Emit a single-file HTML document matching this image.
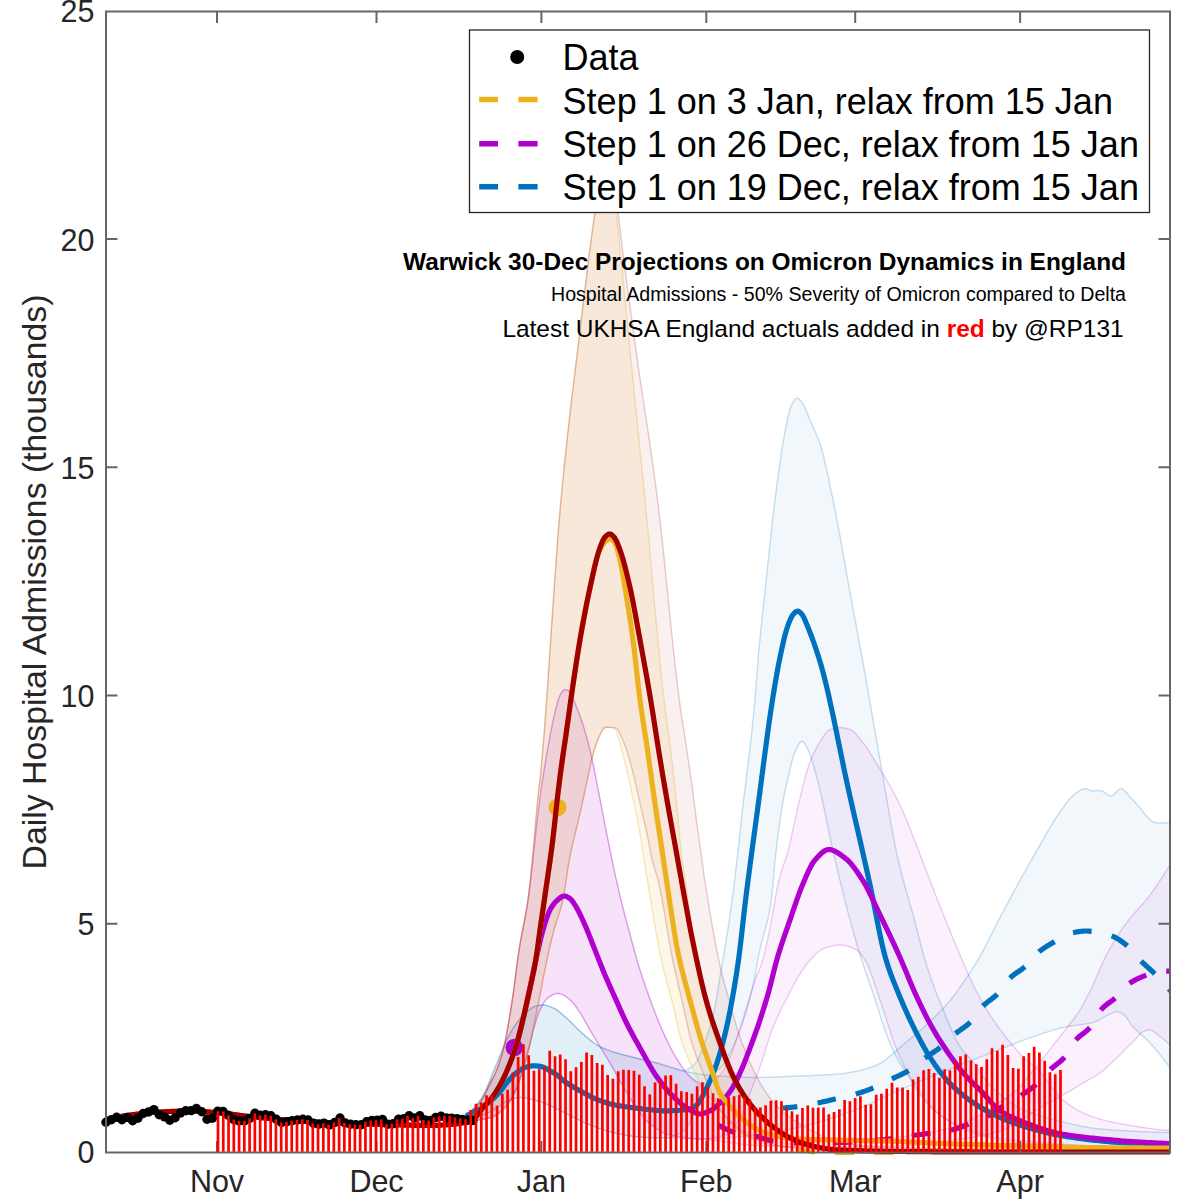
<!DOCTYPE html>
<html><head><meta charset="utf-8"><title>chart</title>
<style>
html,body{margin:0;padding:0;background:#fff;}
body{width:1200px;height:1200px;overflow:hidden;position:relative;}
svg{display:block;position:absolute;top:0;left:0;}
text{font-family:"Liberation Sans",sans-serif;}
</style></head><body>
<svg width="1200" height="1200" viewBox="0 0 1200 1200">
<rect width="1200" height="1200" fill="#fff"/>
<defs><clipPath id="cp"><rect x="106.0" y="11.5" width="1064.0" height="1143.5"/></clipPath></defs>
<g clip-path="url(#cp)">
<path d="M466.7 1113.5L468.7 1112.5L470.7 1111.1L472.7 1109.3L474.7 1107.1L476.7 1104.8L478.7 1102.2L480.7 1099.4L482.7 1096.4L484.7 1092.7L486.7 1088.4L488.7 1083.6L490.7 1078.6L492.7 1073.5L494.7 1068.7L496.7 1063.9L498.7 1058.9L500.7 1053.8L502.7 1048.9L504.7 1044.2L506.7 1040.0L508.7 1036.1L510.7 1032.4L512.7 1029.0L514.7 1025.8L516.7 1023.0L518.7 1020.3L520.7 1017.8L522.7 1015.5L524.7 1013.4L526.7 1011.7L528.7 1010.1L530.7 1008.7L532.7 1007.4L534.7 1006.4L536.7 1005.8L538.7 1005.4L540.7 1005.2L542.7 1005.0L544.7 1005.1L546.7 1005.5L548.7 1006.1L550.7 1006.9L552.7 1007.8L554.7 1008.7L556.7 1009.9L558.7 1011.4L560.7 1013.0L562.7 1014.8L564.7 1016.5L566.7 1018.2L568.7 1020.1L570.7 1022.1L572.7 1024.1L574.7 1026.1L576.7 1028.0L578.7 1029.9L580.7 1031.8L582.7 1033.7L584.8 1035.6L586.8 1037.3L588.8 1039.0L590.8 1040.6L592.8 1042.1L594.8 1043.5L596.8 1044.8L598.8 1046.0L600.8 1047.1L602.8 1048.0L604.8 1048.9L606.8 1049.7L608.8 1050.4L610.8 1051.1L612.8 1051.8L614.8 1052.4L616.8 1053.0L618.8 1053.6L620.8 1054.2L622.8 1054.7L624.8 1055.3L626.8 1055.8L628.8 1056.3L630.8 1056.8L632.8 1057.2L634.8 1057.7L636.8 1058.2L638.8 1058.7L640.8 1059.2L642.8 1059.7L644.8 1060.1L646.8 1060.6L648.8 1061.1L650.8 1061.5L652.8 1062.0L654.8 1062.5L656.8 1063.0L658.8 1063.6L660.8 1064.2L662.8 1064.8L664.8 1065.4L666.8 1066.0L668.8 1066.6L670.8 1067.3L672.8 1067.9L674.8 1068.5L676.8 1069.2L678.8 1069.9L680.8 1070.5L682.8 1070.8L684.8 1070.6L686.8 1069.8L688.8 1068.7L690.8 1067.5L692.8 1066.0L694.8 1064.0L696.8 1061.6L698.8 1058.0L700.8 1053.2L702.8 1048.0L704.8 1042.7L706.8 1037.0L708.8 1030.7L710.8 1023.9L712.8 1016.3L714.8 1007.6L716.8 996.7L718.8 984.0L720.8 972.0L722.8 960.6L724.8 948.6L726.8 936.3L728.8 923.6L730.8 910.2L732.8 895.6L734.8 879.5L736.8 861.9L738.8 843.6L740.8 825.1L742.8 807.2L744.8 790.4L746.8 774.2L748.8 758.0L750.8 741.0L752.8 722.5L754.8 702.0L756.8 675.5L758.8 650.8L760.8 630.2L762.8 611.4L764.8 593.2L766.8 574.5L768.8 555.4L770.8 536.3L772.8 518.1L774.8 501.3L776.8 485.8L778.8 470.8L780.8 456.7L782.8 443.9L784.8 432.8L786.8 422.9L788.8 413.7L790.8 406.6L792.8 402.6L794.8 399.7L796.8 398.1L798.8 398.5L800.8 400.8L802.8 403.8L804.8 407.4L806.8 412.1L808.8 417.2L810.8 421.9L812.8 426.4L814.8 430.8L816.8 435.4L818.8 440.6L820.9 446.7L822.9 453.8L824.9 461.8L826.9 470.6L828.9 479.9L830.9 489.6L832.9 499.4L834.9 509.3L836.9 519.4L838.9 530.0L840.9 541.0L842.9 552.2L844.9 563.6L846.9 575.0L848.9 586.2L850.9 597.2L852.9 608.0L854.9 618.7L856.9 629.4L858.9 640.1L860.9 651.0L862.9 662.0L864.9 673.3L866.9 684.6L868.9 696.1L870.9 707.6L872.9 719.2L874.9 730.7L876.9 742.2L878.9 753.6L880.9 765.0L882.9 776.5L884.9 788.3L886.9 800.1L888.9 811.8L890.9 823.2L892.9 834.2L894.9 844.6L896.9 854.2L898.9 863.0L900.9 871.2L902.9 878.8L904.9 886.2L906.9 893.2L908.9 900.2L910.9 907.2L912.9 914.2L914.9 921.6L916.9 929.3L918.9 937.1L920.9 945.0L922.9 952.6L924.9 959.6L926.9 966.2L928.9 972.4L930.9 978.3L932.9 983.9L934.9 989.3L936.9 994.5L938.9 999.5L940.9 1004.3L942.9 1009.1L944.9 1013.8L946.9 1018.7L948.9 1023.6L950.9 1028.4L952.9 1033.0L954.9 1037.4L956.9 1041.4L958.9 1045.0L960.9 1048.0L962.9 1050.7L964.9 1053.0L966.9 1055.2L968.9 1057.3L970.9 1059.5L972.9 1061.9L974.9 1064.5L976.9 1067.3L978.9 1070.2L980.9 1073.2L982.9 1076.1L984.9 1078.9L986.9 1081.5L988.9 1083.9L990.9 1085.9L992.9 1087.9L994.9 1089.8L996.9 1091.6L998.9 1093.4L1000.9 1095.2L1002.9 1096.9L1004.9 1098.5L1006.9 1100.0L1008.9 1101.4L1010.9 1102.8L1012.9 1104.1L1014.9 1105.3L1016.9 1106.5L1018.9 1107.5L1020.9 1108.4L1022.9 1109.3L1024.9 1110.2L1026.9 1111.0L1028.9 1111.8L1030.9 1112.6L1032.9 1113.4L1034.9 1114.1L1036.9 1114.8L1038.9 1115.4L1040.9 1116.1L1042.9 1116.7L1044.9 1117.3L1046.9 1117.9L1048.9 1118.4L1050.9 1119.0L1052.9 1119.5L1054.9 1120.0L1057.0 1120.5L1059.0 1121.0L1061.0 1121.5L1063.0 1122.0L1065.0 1122.5L1067.0 1122.9L1069.0 1123.4L1071.0 1123.9L1073.0 1124.4L1075.0 1124.8L1077.0 1125.3L1079.0 1125.7L1081.0 1126.1L1083.0 1126.5L1085.0 1126.9L1087.0 1127.3L1089.0 1127.6L1091.0 1127.9L1093.0 1128.2L1095.0 1128.5L1097.0 1128.7L1099.0 1128.9L1101.0 1129.1L1103.0 1129.2L1105.0 1129.4L1107.0 1129.5L1109.0 1129.7L1111.0 1129.8L1113.0 1130.0L1115.0 1130.1L1117.0 1130.3L1119.0 1130.4L1121.0 1130.5L1123.0 1130.7L1125.0 1130.8L1127.0 1130.9L1129.0 1131.0L1131.0 1131.2L1133.0 1131.3L1135.0 1131.4L1137.0 1131.5L1139.0 1131.6L1141.0 1131.7L1143.0 1131.8L1145.0 1131.8L1147.0 1131.9L1149.0 1132.0L1151.0 1132.1L1153.0 1132.1L1155.0 1132.2L1157.0 1132.3L1159.0 1132.3L1161.0 1132.4L1163.0 1132.4L1165.0 1132.4L1167.0 1132.5L1169.0 1132.5L1171.0 1132.5L1173.0 1132.5L1175.0 1132.5L1175.0 1148.0L1173.0 1148.0L1171.0 1148.0L1169.0 1148.0L1167.0 1148.0L1165.0 1148.0L1163.0 1148.0L1161.0 1147.9L1159.0 1147.9L1157.0 1147.9L1155.0 1147.9L1153.0 1147.9L1151.0 1147.8L1149.0 1147.8L1147.0 1147.8L1145.0 1147.7L1143.0 1147.7L1141.0 1147.6L1139.0 1147.6L1137.0 1147.6L1135.0 1147.5L1133.0 1147.5L1131.0 1147.4L1129.0 1147.4L1127.0 1147.3L1125.0 1147.2L1123.0 1147.2L1121.0 1147.1L1119.0 1147.0L1117.0 1147.0L1115.0 1146.9L1113.0 1146.8L1111.0 1146.8L1109.0 1146.7L1107.0 1146.6L1105.0 1146.5L1103.0 1146.4L1101.0 1146.3L1099.0 1146.2L1097.0 1146.2L1095.0 1146.1L1093.0 1146.0L1091.0 1145.9L1089.0 1145.8L1087.0 1145.7L1085.0 1145.6L1083.0 1145.4L1081.0 1145.3L1079.0 1145.2L1077.0 1145.1L1075.0 1145.0L1073.0 1144.9L1071.0 1144.8L1069.0 1144.6L1067.0 1144.5L1065.0 1144.4L1063.0 1144.2L1061.0 1144.1L1059.0 1144.0L1057.0 1143.8L1054.9 1143.7L1052.9 1143.6L1050.9 1143.4L1048.9 1143.3L1046.9 1143.1L1044.9 1143.0L1042.9 1142.8L1040.9 1142.7L1038.9 1142.5L1036.9 1142.3L1034.9 1142.2L1032.9 1142.0L1030.9 1141.9L1028.9 1141.7L1026.9 1141.5L1024.9 1141.3L1022.9 1141.2L1020.9 1141.0L1018.9 1140.8L1016.9 1140.6L1014.9 1140.5L1012.9 1140.3L1010.9 1140.1L1008.9 1139.9L1006.9 1139.7L1004.9 1139.4L1002.9 1139.1L1000.9 1138.7L998.9 1138.3L996.9 1137.9L994.9 1137.5L992.9 1137.0L990.9 1136.5L988.9 1135.9L986.9 1135.4L984.9 1134.8L982.9 1134.2L980.9 1133.6L978.9 1132.9L976.9 1132.3L974.9 1131.6L972.9 1131.0L970.9 1130.3L968.9 1129.6L966.9 1128.9L964.9 1128.2L962.9 1127.4L960.9 1126.5L958.9 1125.6L956.9 1124.7L954.9 1123.7L952.9 1122.7L950.9 1121.7L948.9 1120.6L946.9 1119.4L944.9 1118.2L942.9 1116.9L940.9 1115.6L938.9 1114.2L936.9 1112.7L934.9 1111.1L932.9 1109.3L930.9 1107.4L928.9 1105.3L926.9 1103.2L924.9 1100.9L922.9 1098.6L920.9 1096.1L918.9 1093.5L916.9 1090.5L914.9 1087.2L912.9 1083.7L910.9 1080.1L908.9 1076.6L906.9 1073.3L904.9 1070.3L902.9 1067.5L900.9 1064.6L898.9 1061.5L896.9 1058.0L894.9 1054.0L892.9 1049.8L890.9 1045.3L888.9 1040.5L886.9 1035.5L884.9 1030.1L882.9 1024.2L880.9 1018.0L878.9 1011.6L876.9 1005.1L874.9 998.8L872.9 992.6L870.9 986.8L868.9 981.1L866.9 975.5L864.9 969.8L862.9 963.9L860.9 957.8L858.9 951.3L856.9 944.5L854.9 937.5L852.9 930.4L850.9 923.1L848.9 915.6L846.9 907.9L844.9 900.1L842.9 892.2L840.9 884.1L838.9 876.0L836.9 867.7L834.9 859.4L832.9 850.7L830.9 841.4L828.9 831.8L826.9 822.0L824.9 812.3L822.9 802.8L820.9 793.7L818.8 785.3L816.8 777.5L814.8 770.0L812.8 762.9L810.8 756.6L808.8 751.7L806.8 747.3L804.8 743.5L802.8 741.3L800.8 741.5L798.8 744.0L796.8 747.9L794.8 752.4L792.8 758.2L790.8 765.8L788.8 774.3L786.8 782.8L784.8 792.0L782.8 802.7L780.8 814.9L778.8 828.6L776.8 844.1L774.8 861.6L772.8 886.6L770.8 903.8L768.8 914.9L766.8 923.7L764.8 931.2L762.8 938.3L760.8 945.8L758.8 954.6L756.8 965.6L754.8 977.2L752.8 987.1L750.8 995.3L748.8 1002.7L746.8 1009.6L744.8 1016.2L742.8 1022.4L740.8 1028.3L738.8 1033.7L736.8 1038.6L734.8 1043.2L732.8 1047.5L730.8 1051.5L728.8 1055.2L726.8 1058.9L724.8 1062.3L722.8 1065.3L720.8 1067.7L718.8 1069.4L716.8 1070.8L714.8 1072.1L712.8 1073.7L710.8 1075.7L708.8 1078.8L706.8 1084.1L704.8 1090.1L702.8 1095.5L700.8 1100.0L698.8 1104.3L696.8 1108.4L694.8 1112.4L692.8 1116.6L690.8 1120.9L688.8 1124.9L686.8 1128.1L684.8 1130.1L682.8 1131.5L680.8 1132.8L678.8 1133.9L676.8 1134.9L674.8 1135.8L672.8 1136.6L670.8 1137.2L668.8 1137.7L666.8 1137.9L664.8 1138.0L662.8 1138.0L660.8 1138.0L658.8 1137.9L656.8 1137.9L654.8 1137.8L652.8 1137.7L650.8 1137.6L648.8 1137.5L646.8 1137.4L644.8 1137.3L642.8 1137.2L640.8 1137.0L638.8 1136.9L636.8 1136.7L634.8 1136.5L632.8 1136.3L630.8 1136.0L628.8 1135.7L626.8 1135.3L624.8 1135.0L622.8 1134.6L620.8 1134.2L618.8 1133.8L616.8 1133.4L614.8 1132.9L612.8 1132.5L610.8 1132.0L608.8 1131.5L606.8 1130.9L604.8 1130.3L602.8 1129.6L600.8 1128.9L598.8 1128.3L596.8 1127.5L594.8 1126.8L592.8 1126.0L590.8 1125.3L588.8 1124.5L586.8 1123.7L584.8 1122.8L582.7 1121.8L580.7 1120.9L578.7 1119.9L576.7 1118.9L574.7 1117.8L572.7 1116.8L570.7 1115.8L568.7 1114.8L566.7 1113.8L564.7 1112.9L562.7 1111.9L560.7 1110.9L558.7 1109.9L556.7 1108.9L554.7 1107.9L552.7 1106.9L550.7 1105.9L548.7 1105.0L546.7 1104.1L544.7 1103.3L542.7 1102.6L540.7 1101.9L538.7 1101.3L536.7 1100.8L534.7 1100.2L532.7 1099.6L530.7 1099.1L528.7 1098.6L526.7 1098.2L524.7 1097.9L522.7 1097.6L520.7 1097.5L518.7 1097.6L516.7 1097.9L514.7 1098.4L512.7 1099.2L510.7 1100.0L508.7 1100.8L506.7 1101.7L504.7 1102.6L502.7 1103.8L500.7 1105.1L498.7 1106.5L496.7 1107.9L494.7 1109.3L492.7 1110.6L490.7 1111.7L488.7 1112.6L486.7 1113.4L484.7 1114.3L482.7 1115.1L480.7 1115.9L478.7 1116.6L476.7 1117.3L474.7 1118.0L472.7 1118.6L470.7 1119.1L468.7 1119.6L466.7 1120.0Z" fill="#0072BD" fill-opacity="0.055" stroke="#0072BD" stroke-opacity="0.22" stroke-width="1.4" stroke-linejoin="round"/>
<path d="M466.7 1113.5L468.7 1112.5L470.7 1111.1L472.7 1109.3L474.7 1107.1L476.7 1104.8L478.7 1102.2L480.7 1099.4L482.7 1096.4L484.7 1092.7L486.7 1088.4L488.7 1083.6L490.7 1078.6L492.7 1073.5L494.7 1068.7L496.7 1063.9L498.7 1058.9L500.7 1053.8L502.7 1048.9L504.7 1044.2L506.7 1040.0L508.7 1036.1L510.7 1032.4L512.7 1029.0L514.7 1025.8L516.7 1023.0L518.7 1020.3L520.7 1017.8L522.7 1015.5L524.7 1013.4L526.7 1011.7L528.7 1010.1L530.7 1008.7L532.7 1007.4L534.7 1006.4L536.7 1005.8L538.7 1005.4L540.7 1005.2L542.7 1005.0L544.7 1005.1L546.7 1005.5L548.7 1006.1L550.7 1006.9L552.7 1007.8L554.7 1008.7L556.7 1009.9L558.7 1011.4L560.7 1013.0L562.7 1014.8L564.7 1016.5L566.7 1018.2L568.7 1020.1L570.7 1022.1L572.7 1024.1L574.7 1026.1L576.7 1028.0L578.7 1029.9L580.7 1031.8L582.7 1033.7L584.8 1035.6L586.8 1037.3L588.8 1039.0L590.8 1040.6L592.8 1042.1L594.8 1043.5L596.8 1044.8L598.8 1046.0L600.8 1047.1L602.8 1048.0L604.8 1048.9L606.8 1049.7L608.8 1050.4L610.8 1051.1L612.8 1051.8L614.8 1052.4L616.8 1053.0L618.8 1053.6L620.8 1054.2L622.8 1054.7L624.8 1055.3L626.8 1055.8L628.8 1056.3L630.8 1056.8L632.8 1057.2L634.8 1057.7L636.8 1058.2L638.8 1058.7L640.8 1059.2L642.8 1059.7L644.8 1060.1L646.8 1060.6L648.8 1061.1L650.8 1061.5L652.8 1062.0L654.8 1062.5L656.8 1063.0L658.8 1063.6L660.8 1064.2L662.8 1064.8L664.8 1065.4L666.8 1066.0L668.8 1066.6L670.8 1067.3L672.8 1067.9L674.8 1068.4L676.8 1069.0L678.8 1069.6L680.8 1070.2L682.8 1070.7L684.8 1071.1L686.8 1071.6L688.8 1072.0L690.8 1072.5L692.8 1072.9L694.8 1073.3L696.8 1073.6L698.8 1074.0L700.8 1074.3L702.8 1074.6L704.8 1074.8L706.8 1075.0L708.8 1075.2L710.8 1075.3L712.8 1075.5L714.8 1075.7L716.8 1075.8L718.8 1076.0L720.8 1076.1L722.8 1076.2L724.8 1076.4L726.8 1076.5L728.8 1076.6L730.8 1076.7L732.8 1076.8L734.8 1076.9L736.8 1077.0L738.8 1077.1L740.8 1077.2L742.8 1077.3L744.8 1077.3L746.8 1077.4L748.8 1077.4L750.8 1077.5L752.8 1077.5L754.8 1077.5L756.8 1077.5L758.8 1077.5L760.8 1077.5L762.8 1077.4L764.8 1077.4L766.8 1077.3L768.8 1077.2L770.8 1077.1L772.8 1077.1L774.8 1077.0L776.8 1076.9L778.8 1076.8L780.8 1076.7L782.8 1076.7L784.8 1076.6L786.8 1076.5L788.8 1076.5L790.8 1076.4L792.8 1076.3L794.8 1076.3L796.8 1076.2L798.8 1076.1L800.8 1076.0L802.8 1076.0L804.8 1075.9L806.8 1075.8L808.8 1075.7L810.8 1075.6L812.8 1075.5L814.8 1075.4L816.8 1075.3L818.8 1075.3L820.9 1075.2L822.9 1075.1L824.9 1074.9L826.9 1074.8L828.9 1074.7L830.9 1074.6L832.9 1074.4L834.9 1074.3L836.9 1074.1L838.9 1073.9L840.9 1073.7L842.9 1073.5L844.9 1073.2L846.9 1072.9L848.9 1072.6L850.9 1072.3L852.9 1071.9L854.9 1071.5L856.9 1071.1L858.9 1070.6L860.9 1070.2L862.9 1069.7L864.9 1069.1L866.9 1068.6L868.9 1068.0L870.9 1067.4L872.9 1066.7L874.9 1066.0L876.9 1065.1L878.9 1064.1L880.9 1062.9L882.9 1061.6L884.9 1060.2L886.9 1058.6L888.9 1057.0L890.9 1055.4L892.9 1053.7L894.9 1051.9L896.9 1050.2L898.9 1048.4L900.9 1046.6L902.9 1044.9L904.9 1043.2L906.9 1041.5L908.9 1039.9L910.9 1038.3L912.9 1036.6L914.9 1034.9L916.9 1033.2L918.9 1031.5L920.9 1029.7L922.9 1028.0L924.9 1026.2L926.9 1024.4L928.9 1022.5L930.9 1020.6L932.9 1018.7L934.9 1016.8L936.9 1014.8L938.9 1012.8L940.9 1010.8L942.9 1008.7L944.9 1006.5L946.9 1004.2L948.9 1001.9L950.9 999.5L952.9 997.0L954.9 994.4L956.9 991.7L958.9 988.9L960.9 986.0L962.9 983.1L964.9 980.1L966.9 977.2L968.9 974.2L970.9 971.3L972.9 968.2L974.9 965.1L976.9 961.8L978.9 958.4L980.9 954.9L982.9 951.1L984.9 947.3L986.9 943.4L988.9 939.4L990.9 935.4L992.9 931.4L994.9 927.4L996.9 923.4L998.9 919.5L1000.9 915.8L1002.9 912.0L1004.9 908.3L1006.9 904.5L1008.9 900.8L1010.9 897.1L1012.9 893.4L1014.9 889.7L1016.9 886.1L1018.9 882.4L1020.9 878.8L1022.9 875.1L1024.9 871.5L1026.9 867.9L1028.9 864.4L1030.9 860.8L1032.9 857.3L1034.9 853.8L1036.9 850.3L1038.9 846.8L1040.9 843.4L1042.9 839.9L1044.9 836.4L1046.9 832.9L1048.9 829.5L1050.9 826.1L1052.9 822.8L1054.9 819.5L1057.0 816.4L1059.0 813.5L1061.0 810.7L1063.0 807.8L1065.0 805.0L1067.0 802.3L1069.0 799.7L1071.0 797.4L1073.0 795.4L1075.0 793.8L1077.0 792.4L1079.0 791.0L1081.0 789.9L1083.0 789.1L1085.0 788.8L1087.0 789.1L1089.0 789.9L1091.0 790.6L1093.0 791.0L1095.0 790.9L1097.0 790.7L1099.0 790.5L1101.0 790.6L1103.0 791.5L1105.0 792.9L1107.0 794.3L1109.0 795.5L1111.0 796.0L1113.0 795.3L1115.0 793.5L1117.0 791.3L1119.0 789.5L1121.0 788.8L1123.0 789.4L1125.0 791.2L1127.0 793.5L1129.0 795.9L1131.0 798.0L1133.0 800.1L1135.0 802.3L1137.0 804.5L1139.0 806.6L1141.0 809.1L1143.0 811.6L1145.0 814.2L1147.0 816.6L1149.0 818.8L1151.0 820.6L1153.0 821.9L1155.0 822.5L1157.0 822.7L1159.0 822.9L1161.0 823.0L1163.0 823.0L1165.0 822.9L1167.0 822.7L1169.0 822.4L1171.0 822.0L1173.0 821.6L1175.0 821.0L1175.0 1075.0L1173.0 1072.1L1171.0 1069.2L1169.0 1066.4L1167.0 1063.7L1165.0 1061.0L1163.0 1058.4L1161.0 1055.9L1159.0 1053.4L1157.0 1051.0L1155.0 1048.6L1153.0 1046.3L1151.0 1044.1L1149.0 1041.9L1147.0 1039.9L1145.0 1038.0L1143.0 1036.2L1141.0 1034.4L1139.0 1032.6L1137.0 1030.8L1135.0 1028.8L1133.0 1026.7L1131.0 1024.1L1129.0 1021.1L1127.0 1018.2L1125.0 1015.6L1123.0 1014.0L1121.0 1012.9L1119.0 1012.1L1117.0 1011.7L1115.0 1011.9L1113.0 1012.7L1111.0 1013.6L1109.0 1014.4L1107.0 1015.4L1105.0 1016.5L1103.0 1017.7L1101.0 1018.9L1099.0 1020.0L1097.0 1021.0L1095.0 1021.9L1093.0 1022.5L1091.0 1023.0L1089.0 1023.4L1087.0 1023.7L1085.0 1024.1L1083.0 1024.3L1081.0 1024.6L1079.0 1024.9L1077.0 1025.1L1075.0 1025.4L1073.0 1025.6L1071.0 1025.9L1069.0 1026.3L1067.0 1026.6L1065.0 1027.1L1063.0 1027.5L1061.0 1028.0L1059.0 1028.5L1057.0 1029.1L1054.9 1029.6L1052.9 1030.2L1050.9 1030.8L1048.9 1031.4L1046.9 1032.1L1044.9 1032.7L1042.9 1033.4L1040.9 1034.0L1038.9 1034.7L1036.9 1035.4L1034.9 1036.0L1032.9 1036.7L1030.9 1037.4L1028.9 1038.1L1026.9 1038.8L1024.9 1039.6L1022.9 1040.3L1020.9 1041.1L1018.9 1041.9L1016.9 1042.7L1014.9 1043.5L1012.9 1044.3L1010.9 1045.0L1008.9 1045.8L1006.9 1046.6L1004.9 1047.4L1002.9 1048.2L1000.9 1048.9L998.9 1049.7L996.9 1050.5L994.9 1051.3L992.9 1052.1L990.9 1052.9L988.9 1053.7L986.9 1054.5L984.9 1055.3L982.9 1056.1L980.9 1056.9L978.9 1057.7L976.9 1058.5L974.9 1059.2L972.9 1060.0L970.9 1060.8L968.9 1061.6L966.9 1062.4L964.9 1063.2L962.9 1063.9L960.9 1064.7L958.9 1065.5L956.9 1066.3L954.9 1067.1L952.9 1067.8L950.9 1068.6L948.9 1069.4L946.9 1070.2L944.9 1071.0L942.9 1071.8L940.9 1072.6L938.9 1073.5L936.9 1074.3L934.9 1075.1L932.9 1075.9L930.9 1076.8L928.9 1077.6L926.9 1078.5L924.9 1079.3L922.9 1080.1L920.9 1081.0L918.9 1081.9L916.9 1082.7L914.9 1083.6L912.9 1084.4L910.9 1085.3L908.9 1086.2L906.9 1087.0L904.9 1087.9L902.9 1088.8L900.9 1089.6L898.9 1090.5L896.9 1091.4L894.9 1092.3L892.9 1093.2L890.9 1094.1L888.9 1095.0L886.9 1095.9L884.9 1096.9L882.9 1097.8L880.9 1098.7L878.9 1099.7L876.9 1100.6L874.9 1101.5L872.9 1102.5L870.9 1103.4L868.9 1104.3L866.9 1105.2L864.9 1106.0L862.9 1106.9L860.9 1107.8L858.9 1108.6L856.9 1109.4L854.9 1110.2L852.9 1111.0L850.9 1111.7L848.9 1112.4L846.9 1113.1L844.9 1113.8L842.9 1114.5L840.9 1115.2L838.9 1115.9L836.9 1116.5L834.9 1117.2L832.9 1117.9L830.9 1118.5L828.9 1119.1L826.9 1119.8L824.9 1120.4L822.9 1121.0L820.9 1121.6L818.8 1122.1L816.8 1122.7L814.8 1123.3L812.8 1123.8L810.8 1124.3L808.8 1124.9L806.8 1125.4L804.8 1125.9L802.8 1126.3L800.8 1126.8L798.8 1127.3L796.8 1127.7L794.8 1128.2L792.8 1128.6L790.8 1129.0L788.8 1129.5L786.8 1129.9L784.8 1130.3L782.8 1130.8L780.8 1131.2L778.8 1131.6L776.8 1132.0L774.8 1132.4L772.8 1132.8L770.8 1133.1L768.8 1133.5L766.8 1133.8L764.8 1134.1L762.8 1134.4L760.8 1134.7L758.8 1135.0L756.8 1135.3L754.8 1135.5L752.8 1135.7L750.8 1135.9L748.8 1136.1L746.8 1136.3L744.8 1136.5L742.8 1136.6L740.8 1136.8L738.8 1137.0L736.8 1137.2L734.8 1137.3L732.8 1137.5L730.8 1137.6L728.8 1137.8L726.8 1137.9L724.8 1138.1L722.8 1138.2L720.8 1138.3L718.8 1138.4L716.8 1138.5L714.8 1138.6L712.8 1138.7L710.8 1138.8L708.8 1138.9L706.8 1138.9L704.8 1139.0L702.8 1139.0L700.8 1139.0L698.8 1139.0L696.8 1139.0L694.8 1139.0L692.8 1138.9L690.8 1138.9L688.8 1138.8L686.8 1138.8L684.8 1138.7L682.8 1138.7L680.8 1138.6L678.8 1138.5L676.8 1138.4L674.8 1138.4L672.8 1138.3L670.8 1138.2L668.8 1138.1L666.8 1138.1L664.8 1138.0L662.8 1137.9L660.8 1137.9L658.8 1137.8L656.8 1137.7L654.8 1137.7L652.8 1137.6L650.8 1137.5L648.8 1137.5L646.8 1137.4L644.8 1137.3L642.8 1137.2L640.8 1137.0L638.8 1136.9L636.8 1136.7L634.8 1136.5L632.8 1136.3L630.8 1136.0L628.8 1135.7L626.8 1135.3L624.8 1135.0L622.8 1134.6L620.8 1134.2L618.8 1133.8L616.8 1133.4L614.8 1132.9L612.8 1132.5L610.8 1132.0L608.8 1131.5L606.8 1130.9L604.8 1130.3L602.8 1129.6L600.8 1128.9L598.8 1128.3L596.8 1127.5L594.8 1126.8L592.8 1126.0L590.8 1125.3L588.8 1124.5L586.8 1123.7L584.8 1122.8L582.7 1121.8L580.7 1120.9L578.7 1119.9L576.7 1118.9L574.7 1117.8L572.7 1116.8L570.7 1115.8L568.7 1114.8L566.7 1113.8L564.7 1112.9L562.7 1111.9L560.7 1110.9L558.7 1109.9L556.7 1108.9L554.7 1107.9L552.7 1106.9L550.7 1105.9L548.7 1105.0L546.7 1104.1L544.7 1103.3L542.7 1102.6L540.7 1101.9L538.7 1101.3L536.7 1100.8L534.7 1100.2L532.7 1099.6L530.7 1099.1L528.7 1098.6L526.7 1098.2L524.7 1097.9L522.7 1097.6L520.7 1097.5L518.7 1097.6L516.7 1097.9L514.7 1098.4L512.7 1099.2L510.7 1100.0L508.7 1100.8L506.7 1101.7L504.7 1102.6L502.7 1103.8L500.7 1105.1L498.7 1106.5L496.7 1107.9L494.7 1109.3L492.7 1110.6L490.7 1111.7L488.7 1112.6L486.7 1113.4L484.7 1114.3L482.7 1115.1L480.7 1115.9L478.7 1116.6L476.7 1117.3L474.7 1118.0L472.7 1118.6L470.7 1119.1L468.7 1119.6L466.7 1120.0Z" fill="#0072BD" fill-opacity="0.055" stroke="#0072BD" stroke-opacity="0.22" stroke-width="1.4" stroke-linejoin="round"/>
<path d="M466.0 1113.5L468.0 1112.9L470.0 1111.9L472.0 1110.5L474.0 1108.8L476.0 1107.0L478.0 1105.0L480.0 1102.6L482.0 1099.5L484.0 1095.9L486.0 1092.0L488.0 1087.9L490.0 1083.9L492.0 1080.0L494.0 1076.0L496.0 1071.7L498.0 1066.7L500.0 1060.8L502.1 1054.0L504.1 1046.1L506.1 1036.9L508.1 1025.6L510.1 1013.7L512.1 1001.2L514.1 987.3L516.1 971.7L518.1 956.3L520.1 943.4L522.1 932.5L524.1 922.3L526.1 911.7L528.1 899.4L530.1 884.4L532.1 867.1L534.1 848.6L536.1 830.0L538.1 812.4L540.1 796.7L542.1 782.9L544.1 770.0L546.1 757.9L548.1 746.6L550.1 735.7L552.1 725.5L554.1 716.2L556.1 707.8L558.1 700.0L560.1 694.8L562.1 691.7L564.1 689.7L566.1 689.7L568.1 690.6L570.1 692.1L572.1 695.9L574.2 701.3L576.2 706.3L578.2 711.3L580.2 716.6L582.2 722.4L584.2 728.7L586.2 735.6L588.2 743.1L590.2 751.1L592.2 759.8L594.2 769.5L596.2 779.7L598.2 789.8L600.2 800.2L602.2 810.7L604.2 821.0L606.2 831.2L608.2 841.4L610.2 851.3L612.2 861.0L614.2 870.4L616.2 879.5L618.2 888.4L620.2 896.9L622.2 905.0L624.2 912.7L626.2 920.2L628.2 927.7L630.2 935.3L632.2 942.8L634.2 950.2L636.2 957.4L638.2 964.3L640.2 970.8L642.2 977.0L644.3 983.1L646.3 988.9L648.3 994.6L650.3 1000.2L652.3 1005.6L654.3 1010.8L656.3 1015.9L658.3 1020.9L660.3 1025.7L662.3 1030.3L664.3 1034.8L666.3 1039.1L668.3 1043.3L670.3 1047.4L672.3 1051.2L674.3 1054.7L676.3 1058.1L678.3 1061.5L680.3 1064.7L682.3 1067.8L684.3 1070.7L686.3 1073.2L688.3 1075.3L690.3 1076.9L692.3 1078.4L694.3 1079.8L696.3 1081.1L698.3 1082.2L700.3 1083.0L702.3 1083.4L704.3 1083.5L706.3 1083.1L708.3 1082.5L710.3 1081.7L712.3 1080.6L714.4 1079.4L716.4 1078.1L718.4 1076.7L720.4 1074.7L722.4 1072.1L724.4 1068.7L726.4 1064.9L728.4 1060.6L730.4 1056.1L732.4 1051.3L734.4 1045.2L736.4 1038.9L738.4 1032.9L740.4 1026.9L742.4 1020.8L744.4 1014.5L746.4 1007.8L748.4 1000.9L750.4 994.1L752.4 987.7L754.4 981.9L756.4 976.8L758.4 972.0L760.4 966.9L762.4 960.9L764.4 953.6L766.4 945.0L768.4 935.6L770.4 925.9L772.4 915.1L774.4 903.5L776.4 892.2L778.4 882.4L780.4 874.6L782.4 868.2L784.4 862.4L786.5 856.4L788.5 849.4L790.5 841.0L792.5 831.7L794.5 822.4L796.5 813.4L798.5 804.4L800.5 796.1L802.5 788.1L804.5 780.2L806.5 772.8L808.5 766.3L810.5 760.8L812.5 756.0L814.5 751.7L816.5 747.9L818.5 744.4L820.5 741.2L822.5 738.0L824.5 735.0L826.5 732.3L828.5 730.3L830.5 729.3L832.5 728.7L834.5 728.2L836.5 727.8L838.5 727.6L840.5 727.5L842.5 727.7L844.5 728.0L846.5 728.5L848.5 729.0L850.5 729.7L852.5 730.9L854.5 732.6L856.6 734.7L858.6 737.1L860.6 739.6L862.6 742.1L864.6 744.7L866.6 747.5L868.6 750.6L870.6 753.8L872.6 757.0L874.6 760.3L876.6 763.6L878.6 766.8L880.6 770.1L882.6 773.3L884.6 776.7L886.6 780.0L888.6 783.5L890.6 787.0L892.6 790.6L894.6 794.4L896.6 798.2L898.6 802.2L900.6 806.3L902.6 810.7L904.6 815.4L906.6 820.3L908.6 825.3L910.6 830.3L912.6 835.3L914.6 840.4L916.6 845.5L918.6 850.7L920.6 855.9L922.6 861.2L924.6 866.5L926.6 871.8L928.7 877.1L930.7 882.3L932.7 887.6L934.7 892.8L936.7 897.9L938.7 902.9L940.7 908.0L942.7 913.0L944.7 918.0L946.7 922.9L948.7 927.8L950.7 932.7L952.7 937.6L954.7 942.4L956.7 947.2L958.7 951.9L960.7 956.6L962.7 961.3L964.7 966.0L966.7 970.7L968.7 975.2L970.7 979.6L972.7 983.8L974.7 987.8L976.7 991.7L978.7 995.5L980.7 999.3L982.7 1002.9L984.7 1006.4L986.7 1009.7L988.7 1013.0L990.7 1016.1L992.7 1019.2L994.7 1022.1L996.7 1024.9L998.8 1027.7L1000.8 1030.4L1002.8 1033.0L1004.8 1035.6L1006.8 1038.1L1008.8 1040.6L1010.8 1043.0L1012.8 1045.4L1014.8 1047.8L1016.8 1050.1L1018.8 1052.3L1020.8 1054.4L1022.8 1056.5L1024.8 1058.4L1026.8 1060.2L1028.8 1061.9L1030.8 1063.6L1032.8 1065.3L1034.8 1067.0L1036.8 1068.8L1038.8 1070.8L1040.8 1073.0L1042.8 1075.4L1044.8 1078.0L1046.8 1080.6L1048.8 1083.3L1050.8 1086.0L1052.8 1088.6L1054.8 1091.2L1056.8 1093.7L1058.8 1096.0L1060.8 1098.0L1062.8 1099.9L1064.8 1101.5L1066.8 1103.1L1068.9 1104.6L1070.9 1106.1L1072.9 1107.4L1074.9 1108.7L1076.9 1109.9L1078.9 1111.0L1080.9 1112.0L1082.9 1112.9L1084.9 1113.8L1086.9 1114.6L1088.9 1115.3L1090.9 1116.1L1092.9 1116.8L1094.9 1117.4L1096.9 1118.1L1098.9 1118.7L1100.9 1119.3L1102.9 1119.9L1104.9 1120.4L1106.9 1120.9L1108.9 1121.4L1110.9 1121.8L1112.9 1122.3L1114.9 1122.7L1116.9 1123.0L1118.9 1123.4L1120.9 1123.8L1122.9 1124.1L1124.9 1124.5L1126.9 1124.9L1128.9 1125.2L1130.9 1125.6L1132.9 1125.9L1134.9 1126.3L1136.9 1126.6L1138.9 1126.9L1141.0 1127.2L1143.0 1127.5L1145.0 1127.8L1147.0 1128.1L1149.0 1128.4L1151.0 1128.6L1153.0 1128.9L1155.0 1129.1L1157.0 1129.3L1159.0 1129.5L1161.0 1129.7L1163.0 1129.9L1165.0 1130.0L1167.0 1130.2L1169.0 1130.3L1171.0 1130.4L1173.0 1130.4L1175.0 1130.5L1175.0 1148.0L1173.0 1148.0L1171.0 1148.0L1169.0 1148.0L1167.0 1148.0L1165.0 1148.0L1163.0 1148.0L1161.0 1148.0L1159.0 1147.9L1157.0 1147.9L1155.0 1147.9L1153.0 1147.9L1151.0 1147.9L1149.0 1147.9L1147.0 1147.8L1145.0 1147.8L1143.0 1147.8L1141.0 1147.8L1138.9 1147.7L1136.9 1147.7L1134.9 1147.7L1132.9 1147.6L1130.9 1147.6L1128.9 1147.6L1126.9 1147.5L1124.9 1147.5L1122.9 1147.4L1120.9 1147.4L1118.9 1147.3L1116.9 1147.3L1114.9 1147.2L1112.9 1147.2L1110.9 1147.1L1108.9 1147.1L1106.9 1147.0L1104.9 1147.0L1102.9 1146.9L1100.9 1146.8L1098.9 1146.8L1096.9 1146.7L1094.9 1146.6L1092.9 1146.6L1090.9 1146.5L1088.9 1146.4L1086.9 1146.3L1084.9 1146.3L1082.9 1146.2L1080.9 1146.1L1078.9 1146.0L1076.9 1145.9L1074.9 1145.8L1072.9 1145.8L1070.9 1145.7L1068.9 1145.6L1066.8 1145.5L1064.8 1145.4L1062.8 1145.3L1060.8 1145.2L1058.8 1145.1L1056.8 1145.0L1054.8 1144.9L1052.8 1144.8L1050.8 1144.7L1048.8 1144.5L1046.8 1144.4L1044.8 1144.3L1042.8 1144.2L1040.8 1144.1L1038.8 1144.0L1036.8 1143.8L1034.8 1143.7L1032.8 1143.6L1030.8 1143.5L1028.8 1143.3L1026.8 1143.2L1024.8 1143.1L1022.8 1142.9L1020.8 1142.8L1018.8 1142.6L1016.8 1142.5L1014.8 1142.4L1012.8 1142.2L1010.8 1142.1L1008.8 1141.9L1006.8 1141.7L1004.8 1141.4L1002.8 1141.2L1000.8 1140.8L998.8 1140.4L996.7 1140.0L994.7 1139.6L992.7 1139.1L990.7 1138.6L988.7 1138.0L986.7 1137.5L984.7 1136.9L982.7 1136.3L980.7 1135.6L978.7 1135.0L976.7 1134.3L974.7 1133.6L972.7 1133.0L970.7 1132.3L968.7 1131.5L966.7 1130.8L964.7 1129.9L962.7 1129.0L960.7 1128.1L958.7 1127.1L956.7 1126.0L954.7 1124.9L952.7 1123.7L950.7 1122.5L948.7 1121.2L946.7 1119.9L944.7 1118.5L942.7 1117.0L940.7 1115.5L938.7 1113.9L936.7 1112.2L934.7 1110.3L932.7 1108.2L930.7 1106.0L928.7 1103.7L926.6 1101.2L924.6 1098.6L922.6 1096.0L920.6 1093.2L918.6 1090.4L916.6 1087.4L914.6 1084.4L912.6 1081.3L910.6 1077.9L908.6 1074.4L906.6 1070.6L904.6 1066.7L902.6 1062.5L900.6 1058.2L898.6 1053.7L896.6 1049.1L894.6 1044.0L892.6 1038.4L890.6 1032.4L888.6 1026.3L886.6 1020.0L884.6 1013.7L882.6 1007.5L880.6 1001.7L878.6 995.9L876.6 989.9L874.6 983.8L872.6 977.8L870.6 972.2L868.6 967.0L866.6 962.7L864.6 959.3L862.6 956.4L860.6 953.8L858.6 951.6L856.6 949.9L854.5 948.8L852.5 947.9L850.5 947.2L848.5 946.5L846.5 945.9L844.5 945.4L842.5 945.1L840.5 945.0L838.5 945.0L836.5 945.2L834.5 945.5L832.5 945.9L830.5 946.4L828.5 946.9L826.5 947.5L824.5 948.2L822.5 949.1L820.5 950.3L818.5 951.8L816.5 953.5L814.5 955.4L812.5 957.4L810.5 959.5L808.5 961.7L806.5 964.2L804.5 967.0L802.5 970.0L800.5 973.2L798.5 976.4L796.5 979.8L794.5 983.3L792.5 987.0L790.5 990.9L788.5 994.8L786.5 998.8L784.4 1002.8L782.4 1006.8L780.4 1010.8L778.4 1015.0L776.4 1019.3L774.4 1023.9L772.4 1028.9L770.4 1034.5L768.4 1040.6L766.4 1046.9L764.4 1053.3L762.4 1059.6L760.4 1065.5L758.4 1071.1L756.4 1076.4L754.4 1081.7L752.4 1086.8L750.4 1092.0L748.4 1097.3L746.4 1102.9L744.4 1108.3L742.4 1113.3L740.4 1117.4L738.4 1120.6L736.4 1123.6L734.4 1126.5L732.4 1129.1L730.4 1131.3L728.4 1133.1L726.4 1134.4L724.4 1135.2L722.4 1135.8L720.4 1136.3L718.4 1136.8L716.4 1137.2L714.4 1137.6L712.3 1138.0L710.3 1138.3L708.3 1138.5L706.3 1138.7L704.3 1138.9L702.3 1139.0L700.3 1139.0L698.3 1139.0L696.3 1138.9L694.3 1138.8L692.3 1138.7L690.3 1138.5L688.3 1138.3L686.3 1138.0L684.3 1137.7L682.3 1137.4L680.3 1137.1L678.3 1136.7L676.3 1136.3L674.3 1135.9L672.3 1135.5L670.3 1135.1L668.3 1134.6L666.3 1133.9L664.3 1133.1L662.3 1132.1L660.3 1131.0L658.3 1129.8L656.3 1128.5L654.3 1127.2L652.3 1125.7L650.3 1124.2L648.3 1122.5L646.3 1120.5L644.3 1118.2L642.2 1115.6L640.2 1113.0L638.2 1110.3L636.2 1107.6L634.2 1104.6L632.2 1101.5L630.2 1098.3L628.2 1095.0L626.2 1091.6L624.2 1088.3L622.2 1084.9L620.2 1081.3L618.2 1077.7L616.2 1074.1L614.2 1070.4L612.2 1066.8L610.2 1063.3L608.2 1060.0L606.2 1056.7L604.2 1053.5L602.2 1050.3L600.2 1047.0L598.2 1043.7L596.2 1040.4L594.2 1037.0L592.2 1033.7L590.2 1030.3L588.2 1026.8L586.2 1023.2L584.2 1019.6L582.2 1016.1L580.2 1012.8L578.2 1009.8L576.2 1007.0L574.2 1004.4L572.1 1001.9L570.1 999.8L568.1 998.2L566.1 996.8L564.1 995.4L562.1 994.3L560.1 993.6L558.1 993.3L556.1 993.6L554.1 994.2L552.1 995.2L550.1 996.3L548.1 997.6L546.1 999.6L544.1 1002.4L542.1 1005.9L540.1 1009.8L538.1 1014.6L536.1 1020.6L534.1 1027.3L532.1 1034.6L530.1 1042.7L528.1 1050.1L526.1 1057.4L524.1 1064.4L522.1 1071.0L520.1 1077.7L518.1 1084.0L516.1 1089.5L514.1 1093.9L512.1 1097.8L510.1 1101.3L508.1 1104.4L506.1 1106.9L504.1 1108.9L502.1 1110.8L500.0 1112.5L498.0 1114.1L496.0 1115.5L494.0 1116.6L492.0 1117.5L490.0 1118.0L488.0 1118.3L486.0 1118.6L484.0 1118.8L482.0 1119.1L480.0 1119.3L478.0 1119.5L476.0 1119.6L474.0 1119.8L472.0 1119.9L470.0 1119.9L468.0 1120.0L466.0 1120.0Z" fill="#B000CC" fill-opacity="0.055" stroke="#B000CC" stroke-opacity="0.2" stroke-width="1.4" stroke-linejoin="round"/>
<path d="M466.0 1113.5L468.0 1112.9L470.0 1111.9L472.0 1110.5L474.0 1108.8L476.0 1107.0L478.0 1105.0L480.0 1102.6L482.0 1099.5L484.0 1095.9L486.0 1092.0L488.0 1087.9L490.0 1083.9L492.0 1080.0L494.0 1076.0L496.0 1071.7L498.0 1066.7L500.0 1060.8L502.1 1054.0L504.1 1046.1L506.1 1036.9L508.1 1025.6L510.1 1013.7L512.1 1001.2L514.1 987.3L516.1 971.7L518.1 956.3L520.1 943.4L522.1 932.5L524.1 922.3L526.1 911.7L528.1 899.4L530.1 884.4L532.1 867.1L534.1 848.6L536.1 830.0L538.1 812.4L540.1 796.7L542.1 782.9L544.1 770.0L546.1 757.9L548.1 746.6L550.1 735.7L552.1 725.5L554.1 716.2L556.1 707.8L558.1 700.0L560.1 694.8L562.1 691.7L564.1 689.7L566.1 689.7L568.1 690.6L570.1 692.1L572.1 695.9L574.2 701.3L576.2 706.3L578.2 711.3L580.2 716.6L582.2 722.4L584.2 728.7L586.2 735.6L588.2 743.1L590.2 751.1L592.2 759.8L594.2 769.5L596.2 779.7L598.2 789.8L600.2 800.2L602.2 810.7L604.2 821.0L606.2 831.2L608.2 841.4L610.2 851.3L612.2 861.0L614.2 870.4L616.2 879.5L618.2 888.4L620.2 896.9L622.2 905.0L624.2 912.7L626.2 920.2L628.2 927.7L630.2 935.3L632.2 942.8L634.2 950.2L636.2 957.4L638.2 964.3L640.2 970.8L642.2 977.0L644.3 983.1L646.3 988.9L648.3 994.6L650.3 1000.2L652.3 1005.6L654.3 1010.8L656.3 1015.9L658.3 1020.9L660.3 1025.7L662.3 1030.3L664.3 1034.8L666.3 1039.1L668.3 1043.3L670.3 1047.4L672.3 1051.2L674.3 1054.7L676.3 1058.0L678.3 1061.1L680.3 1064.2L682.3 1067.1L684.3 1069.9L686.3 1072.5L688.3 1074.8L690.3 1077.0L692.3 1078.9L694.3 1080.6L696.3 1082.1L698.3 1083.6L700.3 1085.2L702.3 1087.0L704.3 1089.1L706.3 1091.6L708.3 1094.4L710.3 1097.3L712.3 1100.3L714.4 1103.2L716.4 1106.0L718.4 1108.4L720.4 1110.7L722.4 1113.0L724.4 1115.1L726.4 1117.2L728.4 1119.2L730.4 1121.1L732.4 1122.9L734.4 1124.5L736.4 1126.0L738.4 1127.5L740.4 1129.0L742.4 1130.4L744.4 1131.6L746.4 1132.7L748.4 1133.5L750.4 1134.1L752.4 1134.5L754.4 1135.0L756.4 1135.4L758.4 1135.7L760.4 1136.1L762.4 1136.4L764.4 1136.8L766.4 1137.1L768.4 1137.4L770.4 1137.6L772.4 1137.9L774.4 1138.1L776.4 1138.4L778.4 1138.6L780.4 1138.8L782.4 1139.0L784.4 1139.1L786.5 1139.3L788.5 1139.4L790.5 1139.5L792.5 1139.7L794.5 1139.8L796.5 1139.9L798.5 1139.9L800.5 1140.0L802.5 1140.1L804.5 1140.1L806.5 1140.2L808.5 1140.3L810.5 1140.3L812.5 1140.4L814.5 1140.5L816.5 1140.5L818.5 1140.6L820.5 1140.6L822.5 1140.7L824.5 1140.7L826.5 1140.7L828.5 1140.8L830.5 1140.8L832.5 1140.9L834.5 1140.9L836.5 1140.9L838.5 1140.9L840.5 1141.0L842.5 1141.0L844.5 1141.0L846.5 1141.0L848.5 1141.0L850.5 1141.0L852.5 1141.0L854.5 1140.9L856.6 1140.9L858.6 1140.8L860.6 1140.7L862.6 1140.6L864.6 1140.5L866.6 1140.4L868.6 1140.2L870.6 1140.1L872.6 1139.9L874.6 1139.7L876.6 1139.5L878.6 1139.3L880.6 1139.1L882.6 1138.9L884.6 1138.7L886.6 1138.5L888.6 1138.3L890.6 1138.1L892.6 1137.8L894.6 1137.6L896.6 1137.4L898.6 1137.2L900.6 1136.9L902.6 1136.7L904.6 1136.5L906.6 1136.2L908.6 1136.0L910.6 1135.7L912.6 1135.4L914.6 1135.1L916.6 1134.8L918.6 1134.5L920.6 1134.2L922.6 1133.9L924.6 1133.5L926.6 1133.2L928.7 1132.8L930.7 1132.4L932.7 1132.0L934.7 1131.6L936.7 1131.2L938.7 1130.7L940.7 1130.3L942.7 1129.8L944.7 1129.3L946.7 1128.9L948.7 1128.3L950.7 1127.8L952.7 1127.2L954.7 1126.6L956.7 1125.9L958.7 1125.2L960.7 1124.4L962.7 1123.5L964.7 1122.6L966.7 1121.7L968.7 1120.8L970.7 1119.8L972.7 1118.8L974.7 1117.8L976.7 1116.7L978.7 1115.7L980.7 1114.6L982.7 1113.5L984.7 1112.2L986.7 1110.9L988.7 1109.6L990.7 1108.2L992.7 1106.8L994.7 1105.4L996.7 1104.0L998.8 1102.6L1000.8 1101.2L1002.8 1099.9L1004.8 1098.6L1006.8 1097.3L1008.8 1096.0L1010.8 1094.7L1012.8 1093.2L1014.8 1091.6L1016.8 1089.9L1018.8 1088.0L1020.8 1085.7L1022.8 1083.2L1024.8 1080.7L1026.8 1078.2L1028.8 1075.7L1030.8 1073.3L1032.8 1070.9L1034.8 1068.5L1036.8 1066.1L1038.8 1063.6L1040.8 1061.1L1042.8 1058.6L1044.8 1056.1L1046.8 1053.5L1048.8 1050.9L1050.8 1048.4L1052.8 1045.8L1054.8 1043.2L1056.8 1040.7L1058.8 1038.1L1060.8 1035.6L1062.8 1033.0L1064.8 1030.4L1066.8 1027.8L1068.9 1025.2L1070.9 1022.7L1072.9 1020.1L1074.9 1017.5L1076.9 1014.7L1078.9 1011.8L1080.9 1008.6L1082.9 1005.1L1084.9 1001.4L1086.9 997.5L1088.9 993.5L1090.9 989.4L1092.9 985.2L1094.9 980.9L1096.9 976.3L1098.9 971.5L1100.9 966.8L1102.9 962.3L1104.9 958.2L1106.9 954.4L1108.9 950.7L1110.9 947.1L1112.9 943.7L1114.9 940.3L1116.9 937.1L1118.9 933.9L1120.9 930.9L1122.9 927.9L1124.9 925.1L1126.9 922.4L1128.9 919.8L1130.9 917.4L1132.9 915.0L1134.9 912.7L1136.9 910.5L1138.9 908.3L1141.0 906.0L1143.0 903.7L1145.0 901.4L1147.0 899.0L1149.0 896.4L1151.0 893.7L1153.0 890.9L1155.0 888.0L1157.0 885.1L1159.0 882.1L1161.0 879.1L1163.0 875.9L1165.0 872.8L1167.0 869.5L1169.0 866.2L1171.0 862.9L1173.0 859.5L1175.0 856.0L1175.0 1050.0L1173.0 1047.9L1171.0 1045.9L1169.0 1044.0L1167.0 1042.2L1165.0 1040.5L1163.0 1038.8L1161.0 1037.2L1159.0 1035.7L1157.0 1034.2L1155.0 1032.6L1153.0 1031.1L1151.0 1030.1L1149.0 1030.0L1147.0 1030.3L1145.0 1030.8L1143.0 1031.7L1141.0 1033.3L1138.9 1035.3L1136.9 1037.5L1134.9 1039.7L1132.9 1041.8L1130.9 1043.7L1128.9 1045.7L1126.9 1047.7L1124.9 1049.8L1122.9 1051.8L1120.9 1053.9L1118.9 1055.9L1116.9 1057.8L1114.9 1059.7L1112.9 1061.6L1110.9 1063.6L1108.9 1065.5L1106.9 1067.3L1104.9 1069.1L1102.9 1070.8L1100.9 1072.3L1098.9 1073.8L1096.9 1075.1L1094.9 1076.3L1092.9 1077.5L1090.9 1078.6L1088.9 1079.7L1086.9 1080.8L1084.9 1081.9L1082.9 1083.1L1080.9 1084.3L1078.9 1085.5L1076.9 1086.7L1074.9 1087.9L1072.9 1089.1L1070.9 1090.3L1068.9 1091.5L1066.8 1092.7L1064.8 1093.9L1062.8 1095.1L1060.8 1096.2L1058.8 1097.4L1056.8 1098.5L1054.8 1099.6L1052.8 1100.7L1050.8 1101.8L1048.8 1102.9L1046.8 1104.0L1044.8 1105.2L1042.8 1106.3L1040.8 1107.5L1038.8 1108.7L1036.8 1110.0L1034.8 1111.3L1032.8 1112.7L1030.8 1114.1L1028.8 1115.4L1026.8 1116.8L1024.8 1118.1L1022.8 1119.3L1020.8 1120.6L1018.8 1121.7L1016.8 1122.8L1014.8 1124.0L1012.8 1125.1L1010.8 1126.2L1008.8 1127.3L1006.8 1128.3L1004.8 1129.2L1002.8 1130.0L1000.8 1130.8L998.8 1131.4L996.7 1132.0L994.7 1132.5L992.7 1133.1L990.7 1133.6L988.7 1134.1L986.7 1134.6L984.7 1135.0L982.7 1135.5L980.7 1135.9L978.7 1136.3L976.7 1136.7L974.7 1137.1L972.7 1137.5L970.7 1137.9L968.7 1138.2L966.7 1138.5L964.7 1138.9L962.7 1139.2L960.7 1139.5L958.7 1139.8L956.7 1140.1L954.7 1140.4L952.7 1140.6L950.7 1140.9L948.7 1141.2L946.7 1141.4L944.7 1141.7L942.7 1142.0L940.7 1142.3L938.7 1142.5L936.7 1142.8L934.7 1143.0L932.7 1143.3L930.7 1143.5L928.7 1143.8L926.6 1144.0L924.6 1144.2L922.6 1144.5L920.6 1144.7L918.6 1144.9L916.6 1145.1L914.6 1145.2L912.6 1145.4L910.6 1145.5L908.6 1145.7L906.6 1145.8L904.6 1145.9L902.6 1145.9L900.6 1146.0L898.6 1146.0L896.6 1146.1L894.6 1146.1L892.6 1146.1L890.6 1146.2L888.6 1146.2L886.6 1146.3L884.6 1146.3L882.6 1146.3L880.6 1146.4L878.6 1146.4L876.6 1146.4L874.6 1146.4L872.6 1146.5L870.6 1146.5L868.6 1146.5L866.6 1146.6L864.6 1146.6L862.6 1146.6L860.6 1146.6L858.6 1146.7L856.6 1146.7L854.5 1146.7L852.5 1146.7L850.5 1146.7L848.5 1146.8L846.5 1146.8L844.5 1146.8L842.5 1146.8L840.5 1146.8L838.5 1146.9L836.5 1146.9L834.5 1146.9L832.5 1146.9L830.5 1146.9L828.5 1146.9L826.5 1146.9L824.5 1146.9L822.5 1146.9L820.5 1147.0L818.5 1147.0L816.5 1147.0L814.5 1147.0L812.5 1147.0L810.5 1147.0L808.5 1147.0L806.5 1147.0L804.5 1147.0L802.5 1147.0L800.5 1147.0L798.5 1147.0L796.5 1147.0L794.5 1147.0L792.5 1146.9L790.5 1146.9L788.5 1146.9L786.5 1146.8L784.4 1146.7L782.4 1146.7L780.4 1146.6L778.4 1146.5L776.4 1146.5L774.4 1146.4L772.4 1146.3L770.4 1146.2L768.4 1146.1L766.4 1146.0L764.4 1145.9L762.4 1145.8L760.4 1145.6L758.4 1145.5L756.4 1145.4L754.4 1145.3L752.4 1145.2L750.4 1145.0L748.4 1144.9L746.4 1144.7L744.4 1144.5L742.4 1144.3L740.4 1144.1L738.4 1143.8L736.4 1143.5L734.4 1143.3L732.4 1143.0L730.4 1142.7L728.4 1142.4L726.4 1142.1L724.4 1141.8L722.4 1141.6L720.4 1141.3L718.4 1141.0L716.4 1140.8L714.4 1140.6L712.3 1140.4L710.3 1140.2L708.3 1139.9L706.3 1139.7L704.3 1139.5L702.3 1139.3L700.3 1139.0L698.3 1138.8L696.3 1138.6L694.3 1138.4L692.3 1138.2L690.3 1138.0L688.3 1137.7L686.3 1137.5L684.3 1137.3L682.3 1137.1L680.3 1136.8L678.3 1136.5L676.3 1136.2L674.3 1135.9L672.3 1135.5L670.3 1135.1L668.3 1134.6L666.3 1133.9L664.3 1133.1L662.3 1132.1L660.3 1131.0L658.3 1129.8L656.3 1128.5L654.3 1127.2L652.3 1125.7L650.3 1124.2L648.3 1122.5L646.3 1120.5L644.3 1118.2L642.2 1115.6L640.2 1113.0L638.2 1110.3L636.2 1107.6L634.2 1104.6L632.2 1101.5L630.2 1098.3L628.2 1095.0L626.2 1091.6L624.2 1088.3L622.2 1084.9L620.2 1081.3L618.2 1077.7L616.2 1074.1L614.2 1070.4L612.2 1066.8L610.2 1063.3L608.2 1060.0L606.2 1056.7L604.2 1053.5L602.2 1050.3L600.2 1047.0L598.2 1043.7L596.2 1040.4L594.2 1037.0L592.2 1033.7L590.2 1030.3L588.2 1026.8L586.2 1023.2L584.2 1019.6L582.2 1016.1L580.2 1012.8L578.2 1009.8L576.2 1007.0L574.2 1004.4L572.1 1001.9L570.1 999.8L568.1 998.2L566.1 996.8L564.1 995.4L562.1 994.3L560.1 993.6L558.1 993.3L556.1 993.6L554.1 994.2L552.1 995.2L550.1 996.3L548.1 997.6L546.1 999.6L544.1 1002.4L542.1 1005.9L540.1 1009.8L538.1 1014.6L536.1 1020.6L534.1 1027.3L532.1 1034.6L530.1 1042.7L528.1 1050.1L526.1 1057.4L524.1 1064.4L522.1 1071.0L520.1 1077.7L518.1 1084.0L516.1 1089.5L514.1 1093.9L512.1 1097.8L510.1 1101.3L508.1 1104.4L506.1 1106.9L504.1 1108.9L502.1 1110.8L500.0 1112.5L498.0 1114.1L496.0 1115.5L494.0 1116.6L492.0 1117.5L490.0 1118.0L488.0 1118.3L486.0 1118.6L484.0 1118.8L482.0 1119.1L480.0 1119.3L478.0 1119.5L476.0 1119.6L474.0 1119.8L472.0 1119.9L470.0 1119.9L468.0 1120.0L466.0 1120.0Z" fill="#B000CC" fill-opacity="0.055" stroke="#B000CC" stroke-opacity="0.2" stroke-width="1.4" stroke-linejoin="round"/>
<path d="M466.0 1113.5L468.0 1112.9L470.0 1111.9L472.0 1110.5L474.0 1108.8L476.0 1107.0L478.0 1105.0L480.0 1102.6L482.0 1099.5L484.0 1095.9L486.0 1092.0L488.0 1087.9L490.0 1083.9L492.0 1080.0L494.0 1076.0L496.0 1071.7L498.0 1066.7L500.0 1060.8L502.1 1054.0L504.1 1046.1L506.1 1036.9L508.1 1025.6L510.1 1013.7L512.1 1001.2L514.1 987.3L516.1 971.7L518.1 956.3L520.1 943.5L522.1 932.9L524.1 923.0L526.1 912.3L528.1 899.4L530.1 882.4L532.1 862.1L534.1 840.1L536.1 816.5L538.1 794.8L540.1 779.0L542.1 758.1L544.1 734.0L546.1 707.3L548.1 678.7L550.1 649.1L552.1 619.1L554.1 589.4L556.1 560.8L558.1 533.9L560.1 509.6L562.1 488.1L564.1 467.9L566.1 448.7L568.1 430.3L570.1 412.6L572.1 395.3L574.2 378.5L576.2 361.9L578.2 345.3L580.2 328.7L582.2 312.0L584.2 295.6L586.2 279.4L588.2 263.5L590.2 247.9L592.2 232.7L594.2 217.9L596.2 203.3L598.2 188.6L600.2 175.0L602.2 164.1L604.2 154.3L606.2 150.1L608.2 155.9L610.2 166.0L612.2 179.4L614.2 196.2L616.2 213.8L618.2 231.8L620.2 250.9L622.2 270.8L624.2 291.2L626.2 311.7L628.2 332.2L630.2 352.3L632.2 372.2L634.2 392.0L636.2 411.9L638.2 431.8L640.2 451.8L642.2 472.0L644.3 492.3L646.3 513.1L648.3 534.6L650.3 556.7L652.3 579.1L654.3 601.5L656.3 623.5L658.3 644.9L660.3 665.4L662.3 684.7L664.3 702.4L666.3 717.7L668.3 732.2L670.3 747.9L672.3 764.1L674.3 781.6L676.3 801.3L678.3 822.6L680.3 843.9L682.3 862.2L684.3 874.0L686.3 887.1L688.3 902.5L690.3 919.9L692.3 937.5L694.3 952.0L696.3 963.9L698.3 974.6L700.3 984.3L702.3 993.1L704.3 1001.3L706.3 1009.0L708.3 1016.1L710.3 1022.8L712.3 1029.1L714.4 1035.2L716.4 1041.1L718.4 1046.9L720.4 1052.6L722.4 1058.2L724.4 1063.5L726.4 1068.6L728.4 1073.2L730.4 1077.5L732.4 1081.4L734.4 1085.1L736.4 1088.7L738.4 1092.0L740.4 1095.2L742.4 1098.1L744.4 1100.9L746.4 1103.5L748.4 1106.0L750.4 1108.4L752.4 1110.6L754.4 1112.8L756.4 1114.8L758.4 1116.7L760.4 1118.6L762.4 1120.4L764.4 1122.0L766.4 1123.7L768.4 1125.2L770.4 1126.7L772.4 1128.2L774.4 1129.5L776.4 1130.8L778.4 1132.1L780.4 1133.3L782.4 1134.4L784.4 1135.5L786.5 1136.6L788.5 1137.6L790.5 1138.6L792.5 1139.5L794.5 1140.4L796.5 1141.2L798.5 1141.9L800.5 1142.5L802.5 1143.2L804.5 1143.8L806.5 1144.3L808.5 1144.8L810.5 1145.3L812.5 1145.7L814.5 1145.9L816.5 1146.1L818.5 1146.3L820.5 1146.5L822.5 1146.7L824.5 1146.9L826.5 1147.0L828.5 1147.2L830.5 1147.3L832.5 1147.4L834.5 1147.5L836.5 1147.6L838.5 1147.7L840.5 1147.8L842.5 1147.9L844.5 1147.9L846.5 1148.0L848.5 1148.0L850.5 1148.0L852.5 1148.0L854.5 1148.0L856.6 1148.0L858.6 1148.1L860.6 1148.1L862.6 1148.1L864.6 1148.1L866.6 1148.1L868.6 1148.1L870.6 1148.2L872.6 1148.2L874.6 1148.2L876.6 1148.2L878.6 1148.2L880.6 1148.2L882.6 1148.2L884.6 1148.2L886.6 1148.3L888.6 1148.3L890.6 1148.3L892.6 1148.3L894.6 1148.3L896.6 1148.3L898.6 1148.3L900.6 1148.3L902.6 1148.4L904.6 1148.4L906.6 1148.4L908.6 1148.4L910.6 1148.4L912.6 1148.4L914.6 1148.4L916.6 1148.4L918.6 1148.4L920.6 1148.5L922.6 1148.5L924.6 1148.5L926.6 1148.5L928.7 1148.5L930.7 1148.5L932.7 1148.5L934.7 1148.5L936.7 1148.5L938.7 1148.5L940.7 1148.6L942.7 1148.6L944.7 1148.6L946.7 1148.6L948.7 1148.6L950.7 1148.6L952.7 1148.6L954.7 1148.6L956.7 1148.6L958.7 1148.6L960.7 1148.6L962.7 1148.6L964.7 1148.7L966.7 1148.7L968.7 1148.7L970.7 1148.7L972.7 1148.7L974.7 1148.7L976.7 1148.7L978.7 1148.7L980.7 1148.7L982.7 1148.7L984.7 1148.7L986.7 1148.7L988.7 1148.7L990.7 1148.7L992.7 1148.8L994.7 1148.8L996.7 1148.8L998.8 1148.8L1000.8 1148.8L1002.8 1148.8L1004.8 1148.8L1006.8 1148.8L1008.8 1148.8L1010.8 1148.8L1012.8 1148.8L1014.8 1148.8L1016.8 1148.8L1018.8 1148.8L1020.8 1148.8L1022.8 1148.8L1024.8 1148.8L1026.8 1148.8L1028.8 1148.9L1030.8 1148.9L1032.8 1148.9L1034.8 1148.9L1036.8 1148.9L1038.8 1148.9L1040.8 1148.9L1042.8 1148.9L1044.8 1148.9L1046.8 1148.9L1048.8 1148.9L1050.8 1148.9L1052.8 1148.9L1054.8 1148.9L1056.8 1148.9L1058.8 1148.9L1060.8 1148.9L1062.8 1148.9L1064.8 1148.9L1066.8 1148.9L1068.9 1148.9L1070.9 1148.9L1072.9 1148.9L1074.9 1148.9L1076.9 1148.9L1078.9 1148.9L1080.9 1148.9L1082.9 1148.9L1084.9 1149.0L1086.9 1149.0L1088.9 1149.0L1090.9 1149.0L1092.9 1149.0L1094.9 1149.0L1096.9 1149.0L1098.9 1149.0L1100.9 1149.0L1102.9 1149.0L1104.9 1149.0L1106.9 1149.0L1108.9 1149.0L1110.9 1149.0L1112.9 1149.0L1114.9 1149.0L1116.9 1149.0L1118.9 1149.0L1120.9 1149.0L1122.9 1149.0L1124.9 1149.0L1126.9 1149.0L1128.9 1149.0L1130.9 1149.0L1132.9 1149.0L1134.9 1149.0L1136.9 1149.0L1138.9 1149.0L1141.0 1149.0L1143.0 1149.0L1145.0 1149.0L1147.0 1149.0L1149.0 1149.0L1151.0 1149.0L1153.0 1149.0L1155.0 1149.0L1157.0 1149.0L1159.0 1149.0L1161.0 1149.0L1163.0 1149.0L1165.0 1149.0L1167.0 1149.0L1169.0 1149.0L1171.0 1149.0L1173.0 1149.0L1175.0 1149.0L1175.0 1150.0L1173.0 1150.0L1171.0 1150.0L1169.0 1150.0L1167.0 1150.0L1165.0 1150.0L1163.0 1150.0L1161.0 1150.0L1159.0 1150.0L1157.0 1150.0L1155.0 1150.0L1153.0 1150.0L1151.0 1150.0L1149.0 1150.0L1147.0 1150.0L1145.0 1150.0L1143.0 1150.0L1141.0 1150.0L1138.9 1150.0L1136.9 1150.0L1134.9 1150.0L1132.9 1150.0L1130.9 1150.0L1128.9 1150.0L1126.9 1150.0L1124.9 1150.0L1122.9 1150.0L1120.9 1150.0L1118.9 1150.0L1116.9 1150.0L1114.9 1150.0L1112.9 1150.0L1110.9 1150.0L1108.9 1150.0L1106.9 1150.0L1104.9 1150.0L1102.9 1150.0L1100.9 1150.0L1098.9 1150.0L1096.9 1150.0L1094.9 1149.9L1092.9 1149.9L1090.9 1149.9L1088.9 1149.9L1086.9 1149.9L1084.9 1149.9L1082.9 1149.9L1080.9 1149.9L1078.9 1149.9L1076.9 1149.9L1074.9 1149.9L1072.9 1149.9L1070.9 1149.9L1068.9 1149.9L1066.8 1149.9L1064.8 1149.9L1062.8 1149.9L1060.8 1149.9L1058.8 1149.9L1056.8 1149.9L1054.8 1149.9L1052.8 1149.9L1050.8 1149.9L1048.8 1149.9L1046.8 1149.9L1044.8 1149.8L1042.8 1149.8L1040.8 1149.8L1038.8 1149.8L1036.8 1149.8L1034.8 1149.8L1032.8 1149.8L1030.8 1149.8L1028.8 1149.8L1026.8 1149.8L1024.8 1149.8L1022.8 1149.8L1020.8 1149.8L1018.8 1149.8L1016.8 1149.8L1014.8 1149.7L1012.8 1149.7L1010.8 1149.7L1008.8 1149.7L1006.8 1149.7L1004.8 1149.7L1002.8 1149.7L1000.8 1149.7L998.8 1149.7L996.7 1149.7L994.7 1149.7L992.7 1149.7L990.7 1149.7L988.7 1149.6L986.7 1149.6L984.7 1149.6L982.7 1149.6L980.7 1149.6L978.7 1149.6L976.7 1149.6L974.7 1149.6L972.7 1149.6L970.7 1149.6L968.7 1149.5L966.7 1149.5L964.7 1149.5L962.7 1149.5L960.7 1149.5L958.7 1149.5L956.7 1149.5L954.7 1149.5L952.7 1149.5L950.7 1149.4L948.7 1149.4L946.7 1149.4L944.7 1149.4L942.7 1149.4L940.7 1149.4L938.7 1149.4L936.7 1149.4L934.7 1149.3L932.7 1149.3L930.7 1149.3L928.7 1149.3L926.6 1149.3L924.6 1149.3L922.6 1149.3L920.6 1149.2L918.6 1149.2L916.6 1149.2L914.6 1149.2L912.6 1149.2L910.6 1149.2L908.6 1149.2L906.6 1149.1L904.6 1149.1L902.6 1149.1L900.6 1149.1L898.6 1149.1L896.6 1149.1L894.6 1149.0L892.6 1149.0L890.6 1149.0L888.6 1149.0L886.6 1149.0L884.6 1148.9L882.6 1148.9L880.6 1148.9L878.6 1148.9L876.6 1148.9L874.6 1148.9L872.6 1148.8L870.6 1148.8L868.6 1148.8L866.6 1148.8L864.6 1148.8L862.6 1148.7L860.6 1148.7L858.6 1148.7L856.6 1148.7L854.5 1148.7L852.5 1148.6L850.5 1148.6L848.5 1148.6L846.5 1148.6L844.5 1148.5L842.5 1148.5L840.5 1148.5L838.5 1148.5L836.5 1148.5L834.5 1148.4L832.5 1148.4L830.5 1148.4L828.5 1148.4L826.5 1148.3L824.5 1148.3L822.5 1148.3L820.5 1148.3L818.5 1148.2L816.5 1148.2L814.5 1148.2L812.5 1148.2L810.5 1148.1L808.5 1148.1L806.5 1148.1L804.5 1148.1L802.5 1148.0L800.5 1148.0L798.5 1148.0L796.5 1147.9L794.5 1147.8L792.5 1147.7L790.5 1147.6L788.5 1147.4L786.5 1147.2L784.4 1147.0L782.4 1146.8L780.4 1146.6L778.4 1146.3L776.4 1146.0L774.4 1145.7L772.4 1145.4L770.4 1145.0L768.4 1144.7L766.4 1144.3L764.4 1143.9L762.4 1143.5L760.4 1143.1L758.4 1142.6L756.4 1142.0L754.4 1141.2L752.4 1140.2L750.4 1139.2L748.4 1138.1L746.4 1136.9L744.4 1135.7L742.4 1134.5L740.4 1133.2L738.4 1132.0L736.4 1130.7L734.4 1129.4L732.4 1127.9L730.4 1126.4L728.4 1124.8L726.4 1123.1L724.4 1121.3L722.4 1119.4L720.4 1117.2L718.4 1114.8L716.4 1112.3L714.4 1109.5L712.3 1106.6L710.3 1103.5L708.3 1100.3L706.3 1096.7L704.3 1092.8L702.3 1088.7L700.3 1084.5L698.3 1080.2L696.3 1075.9L694.3 1071.7L692.3 1067.4L690.3 1063.1L688.3 1058.7L686.3 1053.9L684.3 1048.7L682.3 1043.1L680.3 1036.6L678.3 1028.5L676.3 1019.5L674.3 1010.5L672.3 1002.2L670.3 994.6L668.3 987.4L666.3 980.1L664.3 972.6L662.3 964.3L660.3 955.2L658.3 944.9L656.3 933.8L654.3 922.2L652.3 910.1L650.3 897.9L648.3 885.7L646.3 873.8L644.3 861.6L642.2 848.1L640.2 834.7L638.2 823.7L636.2 813.9L634.2 804.5L632.2 794.9L630.2 785.2L628.2 775.9L626.2 767.3L624.2 759.3L622.2 751.8L620.2 744.7L618.2 737.2L616.2 730.3L614.2 727.9L612.2 727.7L610.2 727.5L608.2 727.4L606.2 727.3L604.2 727.8L602.2 730.6L600.2 734.3L598.2 738.6L596.2 744.0L594.2 750.3L592.2 757.5L590.2 766.3L588.2 775.8L586.2 785.1L584.2 794.3L582.2 803.6L580.2 812.6L578.2 821.1L576.2 829.3L574.2 837.6L572.1 846.4L570.1 855.7L568.1 866.9L566.1 880.7L564.1 894.0L562.1 903.6L560.1 910.8L558.1 916.9L556.1 922.8L554.1 929.5L552.1 937.4L550.1 945.9L548.1 954.9L546.1 964.2L544.1 974.1L542.1 984.3L540.1 994.5L538.1 1004.5L536.1 1014.5L534.1 1024.6L532.1 1035.1L530.1 1044.6L528.1 1052.9L526.1 1060.6L524.1 1067.8L522.1 1074.2L520.1 1079.8L518.1 1084.7L516.1 1089.2L514.1 1093.3L512.1 1096.9L510.1 1099.9L508.1 1102.6L506.1 1105.1L504.1 1107.4L502.1 1109.6L500.0 1111.5L498.0 1113.1L496.0 1114.4L494.0 1115.5L492.0 1116.4L490.0 1117.3L488.0 1118.0L486.0 1118.7L484.0 1119.3L482.0 1119.7L480.0 1120.0L478.0 1120.2L476.0 1120.4L474.0 1120.6L472.0 1120.8L470.0 1120.9L468.0 1121.0L466.0 1121.0Z" fill="#EDB120" fill-opacity="0.1" stroke="#EDB120" stroke-opacity="0.28" stroke-width="1.4" stroke-linejoin="round"/>
<path d="M466.0 1113.5L468.0 1112.9L470.0 1111.9L472.0 1110.5L474.0 1108.8L476.0 1107.0L478.0 1105.0L480.0 1102.6L482.0 1099.5L484.0 1095.9L486.0 1092.0L488.0 1087.9L490.0 1083.9L492.0 1080.0L494.0 1076.0L496.0 1071.7L498.0 1066.7L500.0 1060.8L502.1 1054.0L504.1 1046.1L506.1 1036.9L508.1 1025.6L510.1 1013.7L512.1 1001.2L514.1 987.3L516.1 971.7L518.1 956.3L520.1 943.5L522.1 932.9L524.1 923.0L526.1 912.3L528.1 899.4L530.1 882.4L532.1 862.1L534.1 840.1L536.1 816.5L538.1 794.8L540.1 779.0L542.1 758.1L544.1 734.0L546.1 707.3L548.1 678.7L550.1 649.1L552.1 619.1L554.1 589.4L556.1 560.8L558.1 533.9L560.1 509.6L562.1 488.1L564.1 467.9L566.1 448.7L568.1 430.3L570.1 412.6L572.1 395.3L574.2 378.5L576.2 361.9L578.2 345.3L580.2 328.7L582.2 311.9L584.2 295.1L586.2 278.6L588.2 262.4L590.2 246.7L592.2 231.7L594.2 217.5L596.2 204.1L598.2 190.9L600.2 178.7L602.2 168.4L604.2 160.2L606.2 152.8L608.2 150.0L610.2 153.7L612.2 161.4L614.2 173.2L616.2 193.8L618.2 213.8L620.2 230.7L622.2 247.0L624.2 262.7L626.2 278.1L628.2 293.1L630.2 307.9L632.2 322.5L634.2 337.1L636.2 351.8L638.2 366.1L640.2 379.9L642.2 393.4L644.3 406.8L646.3 420.1L648.3 433.4L650.3 447.0L652.3 461.0L654.3 475.4L656.3 490.4L658.3 506.2L660.3 523.3L662.3 541.6L664.3 560.6L666.3 580.2L668.3 600.0L670.3 619.8L672.3 639.2L674.3 657.9L676.3 675.7L678.3 692.3L680.3 707.3L682.3 720.6L684.3 733.5L686.3 746.7L688.3 760.0L690.3 773.4L692.3 787.6L694.3 803.3L696.3 819.3L698.3 834.2L700.3 848.2L702.3 862.5L704.3 877.5L706.3 890.2L708.3 902.1L710.3 914.3L712.3 926.3L714.4 937.6L716.4 948.4L718.4 958.4L720.4 967.3L722.4 975.5L724.4 983.2L726.4 990.5L728.4 997.7L730.4 1004.9L732.4 1012.1L734.4 1019.1L736.4 1025.9L738.4 1032.3L740.4 1038.3L742.4 1043.8L744.4 1049.1L746.4 1054.2L748.4 1059.0L750.4 1063.6L752.4 1068.0L754.4 1072.2L756.4 1076.1L758.4 1079.9L760.4 1083.5L762.4 1086.9L764.4 1090.1L766.4 1093.2L768.4 1096.0L770.4 1098.5L772.4 1100.9L774.4 1103.2L776.4 1105.3L778.4 1107.4L780.4 1109.3L782.4 1111.2L784.4 1112.9L786.5 1114.6L788.5 1116.1L790.5 1117.7L792.5 1119.2L794.5 1120.6L796.5 1122.0L798.5 1123.3L800.5 1124.6L802.5 1125.8L804.5 1127.0L806.5 1128.2L808.5 1129.2L810.5 1130.2L812.5 1131.2L814.5 1132.2L816.5 1133.2L818.5 1134.2L820.5 1135.1L822.5 1136.1L824.5 1136.9L826.5 1137.8L828.5 1138.6L830.5 1139.3L832.5 1140.0L834.5 1140.6L836.5 1141.2L838.5 1141.7L840.5 1142.1L842.5 1142.5L844.5 1142.9L846.5 1143.2L848.5 1143.6L850.5 1143.9L852.5 1144.3L854.5 1144.6L856.6 1144.9L858.6 1145.2L860.6 1145.4L862.6 1145.7L864.6 1145.9L866.6 1146.1L868.6 1146.3L870.6 1146.5L872.6 1146.6L874.6 1146.8L876.6 1146.9L878.6 1147.0L880.6 1147.0L882.6 1147.1L884.6 1147.1L886.6 1147.2L888.6 1147.2L890.6 1147.2L892.6 1147.3L894.6 1147.3L896.6 1147.4L898.6 1147.4L900.6 1147.5L902.6 1147.5L904.6 1147.6L906.6 1147.6L908.6 1147.6L910.6 1147.7L912.6 1147.7L914.6 1147.8L916.6 1147.8L918.6 1147.8L920.6 1147.9L922.6 1147.9L924.6 1148.0L926.6 1148.0L928.7 1148.0L930.7 1148.1L932.7 1148.1L934.7 1148.1L936.7 1148.2L938.7 1148.2L940.7 1148.2L942.7 1148.3L944.7 1148.3L946.7 1148.3L948.7 1148.4L950.7 1148.4L952.7 1148.4L954.7 1148.5L956.7 1148.5L958.7 1148.5L960.7 1148.6L962.7 1148.6L964.7 1148.6L966.7 1148.7L968.7 1148.7L970.7 1148.7L972.7 1148.7L974.7 1148.8L976.7 1148.8L978.7 1148.8L980.7 1148.9L982.7 1148.9L984.7 1148.9L986.7 1148.9L988.7 1149.0L990.7 1149.0L992.7 1149.0L994.7 1149.0L996.7 1149.1L998.8 1149.1L1000.8 1149.1L1002.8 1149.1L1004.8 1149.2L1006.8 1149.2L1008.8 1149.2L1010.8 1149.2L1012.8 1149.2L1014.8 1149.3L1016.8 1149.3L1018.8 1149.3L1020.8 1149.3L1022.8 1149.3L1024.8 1149.4L1026.8 1149.4L1028.8 1149.4L1030.8 1149.4L1032.8 1149.4L1034.8 1149.4L1036.8 1149.5L1038.8 1149.5L1040.8 1149.5L1042.8 1149.5L1044.8 1149.5L1046.8 1149.5L1048.8 1149.6L1050.8 1149.6L1052.8 1149.6L1054.8 1149.6L1056.8 1149.6L1058.8 1149.6L1060.8 1149.6L1062.8 1149.7L1064.8 1149.7L1066.8 1149.7L1068.9 1149.7L1070.9 1149.7L1072.9 1149.7L1074.9 1149.7L1076.9 1149.7L1078.9 1149.8L1080.9 1149.8L1082.9 1149.8L1084.9 1149.8L1086.9 1149.8L1088.9 1149.8L1090.9 1149.8L1092.9 1149.8L1094.9 1149.8L1096.9 1149.8L1098.9 1149.9L1100.9 1149.9L1102.9 1149.9L1104.9 1149.9L1106.9 1149.9L1108.9 1149.9L1110.9 1149.9L1112.9 1149.9L1114.9 1149.9L1116.9 1149.9L1118.9 1149.9L1120.9 1149.9L1122.9 1149.9L1124.9 1149.9L1126.9 1149.9L1128.9 1149.9L1130.9 1150.0L1132.9 1150.0L1134.9 1150.0L1136.9 1150.0L1138.9 1150.0L1141.0 1150.0L1143.0 1150.0L1145.0 1150.0L1147.0 1150.0L1149.0 1150.0L1151.0 1150.0L1153.0 1150.0L1155.0 1150.0L1157.0 1150.0L1159.0 1150.0L1161.0 1150.0L1163.0 1150.0L1165.0 1150.0L1167.0 1150.0L1169.0 1150.0L1171.0 1150.0L1173.0 1150.0L1175.0 1150.0L1175.0 1151.0L1173.0 1151.0L1171.0 1151.0L1169.0 1151.0L1167.0 1151.0L1165.0 1151.0L1163.0 1151.0L1161.0 1151.0L1159.0 1151.0L1157.0 1151.0L1155.0 1151.0L1153.0 1151.0L1151.0 1151.0L1149.0 1151.0L1147.0 1151.0L1145.0 1151.0L1143.0 1151.0L1141.0 1151.0L1138.9 1151.0L1136.9 1151.0L1134.9 1151.0L1132.9 1151.0L1130.9 1151.0L1128.9 1151.0L1126.9 1151.0L1124.9 1151.0L1122.9 1151.0L1120.9 1151.0L1118.9 1151.0L1116.9 1151.0L1114.9 1151.0L1112.9 1151.0L1110.9 1151.0L1108.9 1151.0L1106.9 1151.0L1104.9 1151.0L1102.9 1151.0L1100.9 1151.0L1098.9 1151.0L1096.9 1151.0L1094.9 1151.0L1092.9 1151.0L1090.9 1151.0L1088.9 1151.0L1086.9 1151.0L1084.9 1151.0L1082.9 1151.0L1080.9 1151.0L1078.9 1151.0L1076.9 1151.0L1074.9 1151.0L1072.9 1151.0L1070.9 1151.0L1068.9 1150.9L1066.8 1150.9L1064.8 1150.9L1062.8 1150.9L1060.8 1150.9L1058.8 1150.9L1056.8 1150.9L1054.8 1150.9L1052.8 1150.9L1050.8 1150.9L1048.8 1150.9L1046.8 1150.9L1044.8 1150.9L1042.8 1150.9L1040.8 1150.9L1038.8 1150.9L1036.8 1150.9L1034.8 1150.9L1032.8 1150.9L1030.8 1150.9L1028.8 1150.9L1026.8 1150.9L1024.8 1150.9L1022.8 1150.9L1020.8 1150.9L1018.8 1150.9L1016.8 1150.9L1014.8 1150.9L1012.8 1150.9L1010.8 1150.9L1008.8 1150.9L1006.8 1150.8L1004.8 1150.8L1002.8 1150.8L1000.8 1150.8L998.8 1150.8L996.7 1150.8L994.7 1150.8L992.7 1150.8L990.7 1150.8L988.7 1150.8L986.7 1150.8L984.7 1150.8L982.7 1150.8L980.7 1150.8L978.7 1150.8L976.7 1150.8L974.7 1150.8L972.7 1150.8L970.7 1150.8L968.7 1150.7L966.7 1150.7L964.7 1150.7L962.7 1150.7L960.7 1150.7L958.7 1150.7L956.7 1150.7L954.7 1150.7L952.7 1150.7L950.7 1150.7L948.7 1150.7L946.7 1150.7L944.7 1150.7L942.7 1150.7L940.7 1150.7L938.7 1150.6L936.7 1150.6L934.7 1150.6L932.7 1150.6L930.7 1150.6L928.7 1150.6L926.6 1150.6L924.6 1150.6L922.6 1150.6L920.6 1150.6L918.6 1150.6L916.6 1150.6L914.6 1150.5L912.6 1150.5L910.6 1150.5L908.6 1150.5L906.6 1150.5L904.6 1150.5L902.6 1150.5L900.6 1150.5L898.6 1150.5L896.6 1150.5L894.6 1150.5L892.6 1150.4L890.6 1150.4L888.6 1150.4L886.6 1150.4L884.6 1150.4L882.6 1150.4L880.6 1150.4L878.6 1150.4L876.6 1150.4L874.6 1150.3L872.6 1150.3L870.6 1150.3L868.6 1150.3L866.6 1150.3L864.6 1150.3L862.6 1150.3L860.6 1150.3L858.6 1150.3L856.6 1150.2L854.5 1150.2L852.5 1150.2L850.5 1150.2L848.5 1150.2L846.5 1150.2L844.5 1150.2L842.5 1150.2L840.5 1150.1L838.5 1150.1L836.5 1150.1L834.5 1150.1L832.5 1150.1L830.5 1150.1L828.5 1150.1L826.5 1150.0L824.5 1150.0L822.5 1150.0L820.5 1150.0L818.5 1150.0L816.5 1149.9L814.5 1149.9L812.5 1149.8L810.5 1149.7L808.5 1149.5L806.5 1149.4L804.5 1149.2L802.5 1149.0L800.5 1148.8L798.5 1148.6L796.5 1148.3L794.5 1148.1L792.5 1147.8L790.5 1147.5L788.5 1147.3L786.5 1147.0L784.4 1146.7L782.4 1146.4L780.4 1146.1L778.4 1145.7L776.4 1145.4L774.4 1145.0L772.4 1144.6L770.4 1144.1L768.4 1143.6L766.4 1143.0L764.4 1142.4L762.4 1141.8L760.4 1141.1L758.4 1140.4L756.4 1139.6L754.4 1138.9L752.4 1138.0L750.4 1137.2L748.4 1136.2L746.4 1135.2L744.4 1134.0L742.4 1132.7L740.4 1131.2L738.4 1129.6L736.4 1128.0L734.4 1126.2L732.4 1124.3L730.4 1122.4L728.4 1120.3L726.4 1117.9L724.4 1115.2L722.4 1112.3L720.4 1109.2L718.4 1105.9L716.4 1102.4L714.4 1098.8L712.3 1094.8L710.3 1090.3L708.3 1085.6L706.3 1080.8L704.3 1075.9L702.3 1071.1L700.3 1066.2L698.3 1061.3L696.3 1056.0L694.3 1050.4L692.3 1044.3L690.3 1037.6L688.3 1029.4L686.3 1020.3L684.3 1010.9L682.3 1002.0L680.3 993.4L678.3 985.0L676.3 976.4L674.3 967.5L672.3 958.0L670.3 947.5L668.3 936.0L666.3 924.1L664.3 912.2L662.3 900.7L660.3 890.2L658.3 881.1L656.3 873.9L654.3 867.9L652.3 861.1L650.3 851.2L648.3 840.0L646.3 830.5L644.3 821.5L642.2 812.7L640.2 803.7L638.2 794.9L636.2 786.3L634.2 777.9L632.2 769.6L630.2 761.9L628.2 755.2L626.2 749.1L624.2 743.6L622.2 738.9L620.2 734.2L618.2 730.1L616.2 728.0L614.2 727.8L612.2 727.6L610.2 727.4L608.2 727.3L606.2 727.3L604.2 727.8L602.2 730.6L600.2 734.3L598.2 738.6L596.2 744.0L594.2 750.3L592.2 757.5L590.2 766.3L588.2 775.8L586.2 785.1L584.2 794.3L582.2 803.6L580.2 812.6L578.2 821.1L576.2 829.3L574.2 837.6L572.1 846.4L570.1 855.7L568.1 866.9L566.1 880.7L564.1 894.0L562.1 903.6L560.1 910.8L558.1 916.9L556.1 922.8L554.1 929.5L552.1 937.4L550.1 945.9L548.1 954.9L546.1 964.2L544.1 974.1L542.1 984.3L540.1 994.5L538.1 1004.5L536.1 1014.5L534.1 1024.6L532.1 1035.1L530.1 1044.6L528.1 1052.9L526.1 1060.6L524.1 1067.8L522.1 1074.2L520.1 1079.8L518.1 1084.7L516.1 1089.2L514.1 1093.3L512.1 1096.9L510.1 1099.9L508.1 1102.6L506.1 1105.1L504.1 1107.4L502.1 1109.6L500.0 1111.5L498.0 1113.1L496.0 1114.4L494.0 1115.5L492.0 1116.4L490.0 1117.3L488.0 1118.0L486.0 1118.7L484.0 1119.3L482.0 1119.7L480.0 1120.0L478.0 1120.2L476.0 1120.4L474.0 1120.6L472.0 1120.8L470.0 1120.9L468.0 1121.0L466.0 1121.0Z" fill="#A00000" fill-opacity="0.06" stroke="#A00000" stroke-opacity="0.2" stroke-width="1.4" stroke-linejoin="round"/>
<circle cx="557.5" cy="807.5" r="9.0" fill="#EDB120"/>
<circle cx="514.3" cy="1047.5" r="8.7" fill="#B000CC"/>
<path d="M796.0 1148.0L798.0 1148.6L800.0 1149.1L802.0 1149.6L804.0 1150.1L806.0 1150.5L808.0 1150.9L810.0 1151.3L812.0 1151.7L814.0 1151.9L816.0 1152.1L818.0 1152.2L820.0 1152.3L822.0 1152.4L824.0 1152.5L826.0 1152.5L828.0 1152.6L830.0 1152.6L832.0 1152.7L834.0 1152.7L836.0 1152.7L838.0 1152.7L840.0 1152.7L842.0 1152.7L844.0 1152.7L846.0 1152.7L848.0 1152.7L850.0 1152.7L852.0 1152.7L854.0 1152.7L856.0 1152.7L858.0 1152.7L860.0 1152.7L862.0 1152.7L864.0 1152.7L866.0 1152.7L868.0 1152.7L870.0 1152.7L872.0 1152.7L874.0 1152.7L876.0 1152.7L878.0 1152.7L880.0 1152.7L882.0 1152.7L884.0 1152.7L886.0 1152.7L888.0 1152.7L890.0 1152.7L892.0 1152.7L894.0 1152.7L896.0 1152.7" fill="none" stroke="#EDB120" stroke-width="5.2" stroke-linejoin="round" stroke-linecap="butt" stroke-dasharray="19.5 19.8" stroke-dashoffset="0"/>
<path d="M718.0 1125.0L720.0 1126.1L722.0 1127.1L724.0 1128.1L726.0 1129.1L728.0 1130.0L730.0 1130.8L732.0 1131.6L734.0 1132.2L736.0 1132.8L738.0 1133.3L740.0 1133.7L742.1 1134.1L744.1 1134.4L746.1 1134.7L748.1 1135.0L750.1 1135.3L752.1 1135.6L754.1 1136.0L756.1 1136.4L758.1 1136.8L760.1 1137.4L762.1 1138.0L764.1 1138.7L766.1 1139.3L768.1 1140.0L770.1 1140.5L772.1 1140.9L774.1 1141.1L776.1 1141.4L778.1 1141.6L780.1 1141.8L782.1 1142.0L784.1 1142.2L786.1 1142.4L788.2 1142.5L790.2 1142.7L792.2 1142.8L794.2 1142.9L796.2 1142.9L798.2 1143.0L800.2 1143.0L802.2 1143.0L804.2 1143.0L806.2 1143.0L808.2 1143.0L810.2 1143.0L812.2 1142.9L814.2 1142.9L816.2 1142.9L818.2 1142.9L820.2 1142.9L822.2 1142.8L824.2 1142.8L826.2 1142.8L828.2 1142.7L830.2 1142.7L832.2 1142.7L834.3 1142.6L836.3 1142.6L838.3 1142.5L840.3 1142.5L842.3 1142.4L844.3 1142.4L846.3 1142.3L848.3 1142.2L850.3 1142.1L852.3 1142.0L854.3 1141.9L856.3 1141.8L858.3 1141.7L860.3 1141.6L862.3 1141.4L864.3 1141.3L866.3 1141.1L868.3 1141.0L870.3 1140.8L872.3 1140.6L874.3 1140.5L876.3 1140.3L878.4 1140.1L880.4 1140.0L882.4 1139.8L884.4 1139.6L886.4 1139.3L888.4 1139.1L890.4 1138.8L892.4 1138.6L894.4 1138.3L896.4 1138.0L898.4 1137.7L900.4 1137.4L902.4 1137.1L904.4 1136.8L906.4 1136.5L908.4 1136.2L910.4 1135.9L912.4 1135.6L914.4 1135.3L916.4 1135.0L918.4 1134.8L920.4 1134.5L922.4 1134.2L924.5 1133.9L926.5 1133.6L928.5 1133.4L930.5 1133.1L932.5 1132.8L934.5 1132.5L936.5 1132.3L938.5 1132.0L940.5 1131.8L942.5 1131.5L944.5 1131.2L946.5 1130.9L948.5 1130.6L950.5 1130.2L952.5 1129.8L954.5 1129.3L956.5 1128.7L958.5 1128.0L960.5 1127.3L962.5 1126.5L964.5 1125.7L966.5 1124.9L968.5 1124.2L970.6 1123.4L972.6 1122.7L974.6 1121.9L976.6 1121.2L978.6 1120.4L980.6 1119.5L982.6 1118.7L984.6 1117.7L986.6 1116.8L988.6 1115.7L990.6 1114.4L992.6 1113.1L994.6 1111.7L996.6 1110.3L998.6 1108.9L1000.6 1107.6L1002.6 1106.4L1004.6 1105.2L1006.6 1104.0L1008.6 1102.9L1010.6 1101.7L1012.6 1100.6L1014.6 1099.4L1016.7 1098.2L1018.7 1097.0L1020.7 1095.7L1022.7 1094.4L1024.7 1093.0L1026.7 1091.7L1028.7 1090.3L1030.7 1088.8L1032.7 1087.3L1034.7 1085.7L1036.7 1084.0L1038.7 1082.1L1040.7 1080.1L1042.7 1077.9L1044.7 1075.6L1046.7 1073.4L1048.7 1071.3L1050.7 1069.3L1052.7 1067.5L1054.7 1065.9L1056.7 1064.3L1058.7 1062.7L1060.8 1061.0L1062.8 1059.1L1064.8 1057.0L1066.8 1054.4L1068.8 1051.2L1070.8 1047.7L1072.8 1044.3L1074.8 1041.3L1076.8 1038.9L1078.8 1037.0L1080.8 1035.3L1082.8 1033.8L1084.8 1032.3L1086.8 1030.7L1088.8 1028.8L1090.8 1026.7L1092.8 1023.8L1094.8 1020.2L1096.8 1016.3L1098.8 1012.8L1100.8 1010.0L1102.8 1007.9L1104.8 1006.0L1106.9 1004.4L1108.9 1002.9L1110.9 1001.5L1112.9 1000.0L1114.9 998.3L1116.9 996.5L1118.9 994.4L1120.9 992.1L1122.9 989.8L1124.9 987.6L1126.9 985.5L1128.9 983.8L1130.9 982.4L1132.9 981.2L1134.9 980.1L1136.9 979.1L1138.9 978.1L1140.9 977.3L1142.9 976.4L1144.9 975.7L1146.9 974.9L1148.9 974.1L1150.9 973.3L1153.0 972.5L1155.0 971.9L1157.0 971.3L1159.0 971.0L1161.0 971.0L1163.0 971.0L1165.0 971.0L1167.0 971.1L1169.0 971.2L1171.0 971.4L1173.0 971.7L1175.0 972.0" fill="none" stroke="#B000CC" stroke-width="5.2" stroke-linejoin="round" stroke-linecap="butt" stroke-dasharray="18.7 20.7" stroke-dashoffset="0"/>
<path d="M466.0 1117.0L468.0 1115.6L470.0 1114.2L472.0 1113.0L474.0 1111.9L476.0 1111.0L478.0 1110.1L480.0 1109.0L482.0 1107.7L484.0 1106.3L486.0 1104.8L488.0 1103.2L490.0 1101.5L492.0 1099.8L494.0 1097.9L496.0 1096.0L498.0 1093.9L500.0 1091.6L502.1 1089.1L504.1 1086.3L506.1 1083.6L508.1 1081.1L510.1 1078.8L512.1 1076.7L514.1 1074.7L516.1 1073.0L518.1 1071.5L520.1 1070.1L522.1 1068.8L524.1 1067.8L526.1 1067.2L528.1 1066.6L530.1 1066.1L532.1 1065.9L534.1 1065.8L536.1 1065.9L538.1 1066.1L540.1 1066.4L542.1 1066.8L544.1 1067.5L546.1 1068.5L548.1 1069.7L550.1 1070.9L552.1 1072.0L554.1 1073.1L556.1 1074.4L558.1 1075.8L560.1 1077.6L562.1 1079.4L564.1 1081.1L566.1 1082.5L568.1 1083.8L570.1 1085.1L572.1 1086.3L574.2 1087.5L576.2 1088.7L578.2 1089.8L580.2 1090.9L582.2 1092.0L584.2 1093.1L586.2 1094.2L588.2 1095.2L590.2 1096.3L592.2 1097.3L594.2 1098.3L596.2 1099.2L598.2 1100.0L600.2 1100.7L602.2 1101.4L604.2 1102.1L606.2 1102.7L608.2 1103.3L610.2 1103.9L612.2 1104.4L614.2 1104.8L616.2 1105.2L618.2 1105.6L620.2 1105.9L622.2 1106.3L624.2 1106.6L626.2 1106.8L628.2 1107.1L630.2 1107.4L632.2 1107.6L634.2 1107.8L636.2 1108.1L638.2 1108.3L640.2 1108.5L642.2 1108.8L644.3 1109.0L646.3 1109.3L648.3 1109.5L650.3 1109.7L652.3 1110.0L654.3 1110.2L656.3 1110.4L658.3 1110.5L660.3 1110.7L662.3 1110.8L664.3 1110.8L666.3 1110.8L668.3 1110.8L670.3 1110.7L672.3 1110.7L674.3 1110.6L676.3 1110.5L678.3 1110.3L680.3 1110.2L682.3 1110.0L684.3 1109.8L686.3 1109.5L688.3 1109.2L690.3 1108.9L692.3 1108.2L694.3 1106.9L696.3 1105.3L698.3 1103.3L700.3 1100.3L702.3 1096.7L704.3 1092.7L706.3 1088.7L708.3 1084.6L710.3 1080.2L712.3 1075.4L714.4 1070.2L716.4 1064.6L718.4 1058.4L720.4 1051.8L722.4 1044.5L724.4 1036.7L726.4 1028.2L728.4 1019.0L730.4 1009.0L732.4 998.2L734.4 986.8L736.4 974.4L738.4 960.8L740.4 945.1L742.4 927.6L744.4 909.8L746.4 893.3L748.4 877.6L750.4 862.5L752.4 847.6L754.4 832.8L756.4 818.1L758.4 803.2L760.4 788.0L762.4 772.6L764.4 757.3L766.4 742.3L768.4 727.6L770.4 713.6L772.4 700.4L774.4 688.0L776.4 676.2L778.4 665.3L780.4 655.5L782.4 646.1L784.4 637.3L786.5 629.8L788.5 623.8L790.5 618.9L792.5 615.2L794.5 612.9L796.5 611.3L798.5 611.2L800.5 612.8L802.5 615.1L804.5 618.9L806.5 623.8L808.5 628.6L810.5 633.7L812.5 639.0L814.5 644.7L816.5 650.6L818.5 656.8L820.5 663.3L822.5 670.4L824.5 678.0L826.5 686.2L828.5 694.7L830.5 703.7L832.5 713.0L834.5 722.5L836.5 732.2L838.5 742.0L840.5 751.8L842.5 761.6L844.5 771.2L846.5 780.6L848.5 789.7L850.5 798.7L852.5 807.6L854.5 816.5L856.6 825.3L858.6 834.1L860.6 842.8L862.6 851.7L864.6 860.5L866.6 869.4L868.6 878.5L870.6 887.6L872.6 897.3L874.6 907.5L876.6 917.8L878.6 927.9L880.6 937.6L882.6 946.7L884.6 954.7L886.6 961.6L888.6 967.9L890.6 973.6L892.6 978.9L894.6 983.9L896.6 988.9L898.6 993.8L900.6 998.6L902.6 1003.3L904.6 1007.9L906.6 1012.4L908.6 1016.8L910.6 1021.1L912.6 1025.2L914.6 1029.3L916.6 1033.2L918.6 1037.1L920.6 1041.0L922.6 1044.7L924.6 1048.3L926.6 1051.8L928.7 1055.2L930.7 1058.4L932.7 1061.4L934.7 1064.4L936.7 1067.2L938.7 1070.0L940.7 1072.7L942.7 1075.2L944.7 1077.6L946.7 1079.9L948.7 1082.1L950.7 1084.2L952.7 1086.1L954.7 1088.0L956.7 1089.8L958.7 1091.6L960.7 1093.3L962.7 1094.9L964.7 1096.5L966.7 1098.0L968.7 1099.5L970.7 1100.9L972.7 1102.3L974.7 1103.6L976.7 1104.9L978.7 1106.2L980.7 1107.4L982.7 1108.6L984.7 1109.8L986.7 1110.9L988.7 1112.0L990.7 1113.0L992.7 1114.0L994.7 1115.0L996.7 1116.0L998.8 1116.9L1000.8 1117.8L1002.8 1118.7L1004.8 1119.5L1006.8 1120.3L1008.8 1121.1L1010.8 1121.9L1012.8 1122.6L1014.8 1123.3L1016.8 1124.0L1018.8 1124.7L1020.8 1125.4L1022.8 1126.0L1024.8 1126.6L1026.8 1127.2L1028.8 1127.8L1030.8 1128.4L1032.8 1128.9L1034.8 1129.5L1036.8 1130.1L1038.8 1130.7L1040.8 1131.2L1042.8 1131.8L1044.8 1132.3L1046.8 1132.8L1048.8 1133.2L1050.8 1133.7L1052.8 1134.1L1054.8 1134.5L1056.8 1134.9L1058.8 1135.2L1060.8 1135.6L1062.8 1135.9L1064.8 1136.3L1066.8 1136.6L1068.9 1136.9L1070.9 1137.2L1072.9 1137.5L1074.9 1137.8L1076.9 1138.1L1078.9 1138.3L1080.9 1138.6L1082.9 1138.9L1084.9 1139.1L1086.9 1139.4L1088.9 1139.6L1090.9 1139.9L1092.9 1140.1L1094.9 1140.3L1096.9 1140.5L1098.9 1140.7L1100.9 1140.9L1102.9 1141.1L1104.9 1141.3L1106.9 1141.5L1108.9 1141.7L1110.9 1141.9L1112.9 1142.1L1114.9 1142.2L1116.9 1142.4L1118.9 1142.5L1120.9 1142.7L1122.9 1142.8L1124.9 1143.0L1126.9 1143.1L1128.9 1143.3L1130.9 1143.4L1132.9 1143.5L1134.9 1143.7L1136.9 1143.8L1138.9 1143.9L1141.0 1144.1L1143.0 1144.2L1145.0 1144.3L1147.0 1144.4L1149.0 1144.6L1151.0 1144.7L1153.0 1144.8L1155.0 1144.9L1157.0 1145.0L1159.0 1145.2L1161.0 1145.3L1163.0 1145.4L1165.0 1145.5L1167.0 1145.6L1169.0 1145.7L1171.0 1145.8L1173.0 1145.9L1175.0 1146.0" fill="none" stroke="#0072BD" stroke-width="5.2" stroke-linejoin="round" stroke-linecap="butt"/>
<path d="M516.7 1044.0L518.7 1036.5L520.7 1028.6L522.7 1020.5L524.7 1012.0L526.7 1003.2L528.7 994.0L530.7 984.6L532.7 974.7L534.7 965.0L536.7 955.8L538.7 947.1L540.7 938.7L542.7 931.0L544.7 924.3L546.7 918.0L548.7 912.7L550.7 908.7L552.7 905.5L554.7 902.8L556.7 900.7L558.7 899.0L560.7 897.4L562.7 896.3L564.7 896.0L566.7 896.6L568.7 897.7L570.7 899.1L572.7 901.5L574.7 904.6L576.7 907.9L578.7 911.6L580.7 915.7L582.7 920.0L584.7 924.4L586.7 929.0L588.7 933.9L590.7 939.0L592.7 944.2L594.7 949.3L596.7 954.4L598.7 959.5L600.7 964.5L602.7 969.5L604.7 974.4L606.7 979.1L608.7 983.6L610.7 988.1L612.7 992.5L614.7 996.9L616.7 1001.4L618.7 1005.9L620.7 1010.5L622.7 1014.9L624.7 1019.3L626.8 1023.5L628.8 1027.5L630.8 1031.3L632.8 1035.0L634.8 1038.7L636.8 1042.2L638.8 1045.8L640.8 1049.4L642.8 1053.0L644.8 1056.6L646.8 1060.3L648.8 1063.8L650.8 1067.3L652.8 1070.7L654.8 1073.8L656.8 1076.8L658.8 1079.6L660.8 1082.3L662.8 1084.9L664.8 1087.4L666.8 1089.8L668.8 1092.0L670.8 1094.2L672.8 1096.2L674.8 1098.1L676.8 1100.0L678.8 1101.8L680.8 1103.5L682.8 1105.2L684.8 1106.7L686.8 1108.1L688.8 1109.3L690.8 1110.4L692.8 1111.5L694.8 1112.5L696.8 1113.4L698.8 1113.9L700.8 1114.0L702.8 1113.6L704.8 1113.0L706.8 1112.3L708.8 1111.4L710.8 1110.4L712.8 1109.2L714.8 1107.7L716.8 1105.9L718.8 1104.1L720.8 1102.3L722.8 1100.3L724.8 1098.2L726.8 1095.9L728.8 1093.3L730.8 1090.5L732.8 1087.3L734.8 1083.6L736.8 1079.7L738.8 1075.6L740.8 1071.2L742.8 1066.6L744.8 1061.6L746.8 1056.4L748.8 1051.2L750.8 1045.9L752.8 1040.5L754.8 1035.0L756.8 1029.4L758.8 1023.6L760.8 1017.5L762.8 1011.3L764.8 1004.9L766.8 998.2L768.8 991.2L770.8 983.5L772.8 975.4L774.8 967.4L776.8 959.9L778.8 953.1L780.8 946.8L782.8 940.7L784.8 934.9L786.8 929.1L788.8 923.4L790.8 917.6L792.8 911.7L794.8 905.8L796.8 900.0L798.8 894.4L800.8 889.1L802.8 884.2L804.8 879.5L806.8 874.8L808.8 870.4L810.8 866.4L812.8 862.9L814.8 860.2L816.8 858.0L818.8 855.8L820.8 853.8L822.8 852.0L824.8 850.7L826.8 849.8L828.8 849.5L830.8 849.7L832.8 850.3L834.8 851.1L836.8 852.2L838.8 853.5L840.8 854.9L842.8 856.4L844.8 857.9L846.9 859.5L848.9 861.4L850.9 863.6L852.9 866.1L854.9 868.7L856.9 871.5L858.9 874.5L860.9 877.5L862.9 880.6L864.9 883.9L866.9 887.5L868.9 891.5L870.9 895.6L872.9 899.8L874.9 904.1L876.9 908.4L878.9 912.6L880.9 916.8L882.9 920.9L884.9 925.1L886.9 929.2L888.9 933.4L890.9 937.6L892.9 941.9L894.9 946.2L896.9 950.6L898.9 955.0L900.9 959.5L902.9 964.2L904.9 969.0L906.9 973.8L908.9 978.7L910.9 983.5L912.9 988.2L914.9 992.7L916.9 997.1L918.9 1001.4L920.9 1005.6L922.9 1009.7L924.9 1013.8L926.9 1017.7L928.9 1021.6L930.9 1025.2L932.9 1028.8L934.9 1032.2L936.9 1035.6L938.9 1038.8L940.9 1041.9L942.9 1045.0L944.9 1048.0L946.9 1051.0L948.9 1053.9L950.9 1056.7L952.9 1059.5L954.9 1062.3L956.9 1065.0L958.9 1067.6L960.9 1070.1L962.9 1072.6L964.9 1074.9L966.9 1077.1L968.9 1079.2L970.9 1081.2L972.9 1083.2L974.9 1085.1L976.9 1087.0L978.9 1088.9L980.9 1090.9L982.9 1093.0L984.9 1095.2L986.9 1097.5L988.9 1099.8L990.9 1102.1L992.9 1104.3L994.9 1106.4L996.9 1108.3L998.9 1110.0L1000.9 1111.4L1002.9 1112.6L1004.9 1113.8L1006.9 1114.8L1008.9 1115.8L1010.9 1116.7L1012.9 1117.6L1014.9 1118.5L1016.9 1119.4L1018.9 1120.2L1020.9 1121.1L1022.9 1121.9L1024.9 1122.7L1026.9 1123.4L1028.9 1124.2L1030.9 1124.9L1032.9 1125.7L1034.9 1126.4L1036.9 1127.1L1038.9 1127.8L1040.9 1128.5L1042.9 1129.2L1044.9 1129.8L1046.9 1130.4L1048.9 1131.0L1050.9 1131.5L1052.9 1132.0L1054.9 1132.5L1056.9 1133.0L1058.9 1133.4L1060.9 1133.8L1062.9 1134.2L1064.9 1134.5L1067.0 1134.9L1069.0 1135.2L1071.0 1135.5L1073.0 1135.8L1075.0 1136.1L1077.0 1136.4L1079.0 1136.7L1081.0 1136.9L1083.0 1137.2L1085.0 1137.4L1087.0 1137.6L1089.0 1137.8L1091.0 1138.0L1093.0 1138.2L1095.0 1138.4L1097.0 1138.6L1099.0 1138.8L1101.0 1139.0L1103.0 1139.2L1105.0 1139.3L1107.0 1139.5L1109.0 1139.7L1111.0 1139.9L1113.0 1140.1L1115.0 1140.3L1117.0 1140.4L1119.0 1140.6L1121.0 1140.8L1123.0 1141.0L1125.0 1141.1L1127.0 1141.3L1129.0 1141.4L1131.0 1141.6L1133.0 1141.7L1135.0 1141.8L1137.0 1141.9L1139.0 1142.1L1141.0 1142.2L1143.0 1142.3L1145.0 1142.4L1147.0 1142.5L1149.0 1142.6L1151.0 1142.7L1153.0 1142.8L1155.0 1142.9L1157.0 1143.0L1159.0 1143.1L1161.0 1143.2L1163.0 1143.3L1165.0 1143.4L1167.0 1143.5L1169.0 1143.5L1171.0 1143.6L1173.0 1143.6L1175.0 1143.7" fill="none" stroke="#B000CC" stroke-width="5.2" stroke-linejoin="round" stroke-linecap="butt"/>
<path d="M783.0 1108.0L785.0 1107.9L787.0 1107.7L789.0 1107.6L791.0 1107.4L793.0 1107.2L795.0 1106.9L797.0 1106.7L799.0 1106.4L801.0 1106.1L803.0 1105.8L805.0 1105.5L807.0 1105.1L809.0 1104.7L811.0 1104.3L813.0 1103.9L815.0 1103.5L817.0 1103.1L819.0 1102.7L821.0 1102.3L823.0 1101.8L825.0 1101.4L827.0 1100.9L829.0 1100.4L831.0 1099.9L833.0 1099.5L835.0 1099.0L837.0 1098.5L839.0 1098.1L841.0 1097.6L843.0 1097.2L845.0 1096.8L847.0 1096.3L849.0 1095.8L851.0 1095.3L853.0 1094.8L855.0 1094.3L857.0 1093.7L859.0 1093.1L861.0 1092.5L863.0 1091.8L865.0 1091.1L867.0 1090.3L869.0 1089.6L871.0 1088.8L873.0 1088.0L875.0 1087.2L877.0 1086.3L879.0 1085.3L881.0 1084.4L883.0 1083.4L885.0 1082.4L887.0 1081.3L889.0 1080.3L891.0 1079.3L893.0 1078.4L895.0 1077.4L897.0 1076.5L899.0 1075.6L901.0 1074.7L903.0 1073.7L905.0 1072.7L907.0 1071.6L909.0 1070.4L911.0 1069.0L913.0 1067.6L915.0 1066.0L917.0 1064.4L919.0 1062.7L921.0 1061.1L923.0 1059.5L925.0 1058.0L927.0 1056.6L929.0 1055.2L931.0 1053.9L933.0 1052.5L935.0 1051.2L937.0 1049.8L939.0 1048.3L941.0 1046.7L943.0 1045.0L945.0 1043.2L947.0 1041.3L949.0 1039.4L951.0 1037.5L953.0 1035.7L955.0 1034.0L957.0 1032.4L959.0 1031.0L961.0 1029.5L963.0 1028.1L965.0 1026.7L967.0 1025.1L969.0 1023.4L971.0 1021.5L973.0 1019.1L975.0 1016.4L977.0 1013.6L979.0 1010.8L981.0 1008.2L983.0 1006.0L985.0 1004.1L987.0 1002.5L989.0 1000.9L991.0 999.5L993.0 997.9L995.0 996.3L997.0 994.5L999.0 992.3L1001.0 989.8L1003.0 987.0L1005.0 984.1L1007.0 981.4L1009.0 979.0L1011.0 977.1L1013.0 975.4L1015.0 973.9L1017.0 972.5L1019.0 971.2L1021.0 969.8L1023.0 968.3L1025.0 966.7L1027.0 964.8L1029.0 962.7L1031.0 960.4L1033.0 958.1L1035.0 955.8L1037.0 953.7L1039.0 951.8L1041.0 950.2L1043.0 948.8L1045.0 947.4L1047.0 946.1L1049.0 944.9L1051.0 943.8L1053.0 942.6L1055.0 941.5L1057.0 940.5L1059.0 939.3L1061.0 938.2L1063.0 937.1L1065.0 936.0L1067.0 935.0L1069.0 934.1L1071.0 933.3L1073.0 932.7L1075.0 932.3L1077.0 931.9L1079.0 931.6L1081.0 931.3L1083.0 931.1L1085.0 931.0L1087.0 931.0L1089.0 931.2L1091.0 931.4L1093.0 931.6L1095.0 931.8L1097.0 932.1L1099.0 932.4L1101.0 932.8L1103.0 933.3L1105.0 933.8L1107.0 934.3L1109.0 935.0L1111.0 935.6L1113.0 936.4L1115.0 937.3L1117.0 938.4L1119.0 939.6L1121.0 941.0L1123.0 942.4L1125.0 944.0L1127.0 945.6L1129.0 947.3L1131.0 949.4L1133.0 951.7L1135.0 954.1L1137.0 956.5L1139.0 958.8L1141.0 961.0L1143.0 963.0L1145.0 964.8L1147.0 966.6L1149.0 968.4L1151.0 970.2L1153.0 972.1L1155.0 974.0L1157.0 976.0L1159.0 978.1L1161.0 980.2L1163.0 982.3L1165.0 984.5L1167.0 986.7L1169.0 989.0L1171.0 991.3L1173.0 993.6L1175.0 996.0" fill="none" stroke="#0072BD" stroke-width="5.2" stroke-linejoin="round" stroke-linecap="butt" stroke-dasharray="18.7 20.55" stroke-dashoffset="4.3"/>
<path d="M100.0 1120.5L102.0 1120.2L104.0 1119.8L106.0 1119.5L108.0 1119.1L110.0 1118.8L112.0 1118.4L114.0 1117.9L116.0 1117.5L118.0 1117.1L120.0 1116.7L122.0 1116.3L124.0 1115.9L126.0 1115.6L128.0 1115.3L130.0 1115.0L132.0 1114.7L134.0 1114.5L136.0 1114.2L138.0 1114.0L140.0 1113.7L142.0 1113.5L144.0 1113.3L146.0 1113.1L148.0 1112.9L150.0 1112.7L152.0 1112.5L154.1 1112.4L156.1 1112.2L158.1 1112.1L160.1 1112.0L162.1 1111.9L164.1 1111.8L166.1 1111.7L168.1 1111.6L170.1 1111.5L172.1 1111.4L174.1 1111.3L176.1 1111.3L178.1 1111.2L180.1 1111.1L182.1 1111.1L184.1 1111.1L186.1 1111.0L188.1 1111.0L190.1 1111.0L192.1 1111.0L194.1 1111.1L196.1 1111.1L198.1 1111.2L200.1 1111.3L202.1 1111.5L204.1 1111.6L206.1 1111.8L208.1 1111.9L210.1 1112.1L212.1 1112.3L214.1 1112.4L216.1 1112.6L218.1 1112.8L220.1 1112.9L222.1 1113.1L224.1 1113.4L226.1 1113.6L228.1 1113.8L230.1 1114.0L232.1 1114.2L234.1 1114.5L236.1 1114.7L238.1 1115.0L240.1 1115.3L242.1 1115.5L244.1 1115.8L246.1 1116.0L248.1 1116.3L250.1 1116.5L252.1 1116.7L254.1 1117.0L256.1 1117.2L258.1 1117.4L260.1 1117.6L262.2 1117.8L264.2 1118.0L266.2 1118.2L268.2 1118.4L270.2 1118.6L272.2 1118.8L274.2 1119.0L276.2 1119.2L278.2 1119.4L280.2 1119.5L282.2 1119.7L284.2 1119.8L286.2 1120.0L288.2 1120.1L290.2 1120.3L292.2 1120.4L294.2 1120.5L296.2 1120.7L298.2 1120.8L300.2 1120.9L302.2 1121.0L304.2 1121.2L306.2 1121.3L308.2 1121.4L310.2 1121.5L312.2 1121.6L314.2 1121.7L316.2 1121.9L318.2 1122.0L320.2 1122.1L322.2 1122.2L324.2 1122.3L326.2 1122.4L328.2 1122.5L330.2 1122.6L332.2 1122.7L334.2 1122.8L336.2 1122.9L338.2 1123.0L340.2 1123.1L342.2 1123.2L344.2 1123.3L346.2 1123.4L348.2 1123.4L350.2 1123.5L352.2 1123.6L354.2 1123.7L356.2 1123.7L358.2 1123.8L360.2 1123.9L362.2 1123.9L364.2 1124.0L366.2 1124.1L368.2 1124.1L370.3 1124.2L372.3 1124.3L374.3 1124.3L376.3 1124.4L378.3 1124.5L380.3 1124.5L382.3 1124.6L384.3 1124.6L386.3 1124.7L388.3 1124.7L390.3 1124.8L392.3 1124.8L394.3 1124.9L396.3 1124.9L398.3 1125.0L400.3 1125.0L402.3 1125.0L404.3 1125.1L406.3 1125.1L408.3 1125.2L410.3 1125.2L412.3 1125.3L414.3 1125.3L416.3 1125.4L418.3 1125.4L420.3 1125.4L422.3 1125.4L424.3 1125.5L426.3 1125.5L428.3 1125.5L430.3 1125.5L432.3 1125.5L434.3 1125.4L436.3 1125.4L438.3 1125.3L440.3 1125.2L442.3 1125.0L444.3 1124.9L446.3 1124.8L448.3 1124.6L450.3 1124.5L452.3 1124.3L454.3 1124.1L456.3 1123.9L458.3 1123.7L460.3 1123.4L462.3 1123.0L464.3 1122.6L466.3 1122.2L468.3 1121.5L470.3 1120.6L472.3 1119.5L474.3 1118.3L476.4 1116.3L478.4 1113.7L480.4 1110.9L482.4 1108.1L484.4 1105.8L486.4 1103.8L488.4 1101.8L490.4 1099.6L492.4 1097.1L494.4 1094.3L496.4 1091.2L498.4 1087.9L500.4 1084.3L502.4 1080.5L504.4 1076.4L506.4 1072.0L508.4 1067.3L510.4 1062.3L512.4 1057.0L514.4 1051.3L516.4 1045.0L518.4 1038.0L520.4 1030.2L522.4 1021.8L524.4 1013.3L526.4 1004.5L528.4 995.4L530.4 986.2L532.4 977.1L534.4 967.6L536.4 956.3L538.4 941.8L540.4 927.1L542.4 913.2L544.4 899.5L546.4 885.6L548.4 871.9L550.4 858.1L552.4 843.1L554.4 825.7L556.4 807.0L558.4 789.8L560.4 773.9L562.4 759.2L564.4 745.5L566.4 731.9L568.4 717.5L570.4 703.0L572.4 689.0L574.4 675.4L576.4 662.1L578.4 649.3L580.4 637.4L582.4 626.0L584.5 614.9L586.5 604.5L588.5 594.6L590.5 585.5L592.5 576.3L594.5 567.4L596.5 559.3L598.5 552.7L600.5 548.1L602.5 544.9L604.5 542.4L606.5 540.6L608.5 539.0L610.5 538.6L612.5 539.8L614.5 542.3L616.5 546.3L618.5 553.6L620.5 562.1L622.5 572.6L624.5 584.4L626.5 596.5L628.5 609.0L630.5 622.2L632.5 636.3L634.5 652.1L636.5 669.9L638.5 687.9L640.5 703.7L642.5 717.5L644.5 730.4L646.5 743.3L648.5 757.1L650.5 771.5L652.5 786.0L654.5 800.1L656.5 813.7L658.5 827.0L660.5 840.2L662.5 853.5L664.5 867.0L666.5 880.4L668.5 893.7L670.5 906.8L672.5 920.1L674.5 933.1L676.5 945.0L678.5 955.0L680.5 964.0L682.5 972.2L684.5 979.8L686.5 987.2L688.5 994.6L690.5 1002.1L692.6 1009.6L694.6 1017.1L696.6 1024.5L698.6 1031.6L700.6 1038.3L702.6 1044.7L704.6 1050.7L706.6 1056.2L708.6 1061.6L710.6 1067.0L712.6 1072.6L714.6 1078.5L716.6 1085.2L718.6 1090.6L720.6 1094.2L722.6 1097.2L724.6 1099.9L726.6 1102.3L728.6 1104.7L730.6 1107.1L732.6 1109.3L734.6 1111.5L736.6 1113.5L738.6 1115.5L740.6 1117.3L742.6 1119.1L744.6 1120.8L746.6 1122.5L748.6 1124.0L750.6 1125.5L752.6 1126.8L754.6 1127.9L756.6 1129.0L758.6 1130.0L760.6 1130.9L762.6 1131.8L764.6 1132.6L766.6 1133.3L768.6 1133.9L770.6 1134.5L772.6 1135.0L774.6 1135.5L776.6 1136.0L778.6 1136.4L780.6 1136.8L782.6 1137.1L784.6 1137.4L786.6 1137.7L788.6 1138.0L790.6 1138.3L792.6 1138.6L794.6 1138.8L796.6 1139.0L798.6 1139.1L800.7 1139.2L802.7 1139.3L804.7 1139.4L806.7 1139.4L808.7 1139.5L810.7 1139.6L812.7 1139.6L814.7 1139.6L816.7 1139.7L818.7 1139.7L820.7 1139.8L822.7 1139.8L824.7 1139.8L826.7 1139.9L828.7 1139.9L830.7 1139.9L832.7 1140.0L834.7 1140.0L836.7 1140.1L838.7 1140.1L840.7 1140.2L842.7 1140.2L844.7 1140.3L846.7 1140.3L848.7 1140.3L850.7 1140.4L852.7 1140.4L854.7 1140.5L856.7 1140.5L858.7 1140.5L860.7 1140.6L862.7 1140.6L864.7 1140.6L866.7 1140.7L868.7 1140.7L870.7 1140.8L872.7 1140.8L874.7 1140.8L876.7 1140.9L878.7 1140.9L880.7 1141.0L882.7 1141.0L884.7 1141.1L886.7 1141.1L888.7 1141.2L890.7 1141.2L892.7 1141.3L894.7 1141.3L896.7 1141.4L898.7 1141.5L900.7 1141.5L902.7 1141.6L904.7 1141.7L906.8 1141.8L908.8 1141.9L910.8 1142.0L912.8 1142.1L914.8 1142.2L916.8 1142.3L918.8 1142.4L920.8 1142.5L922.8 1142.6L924.8 1142.7L926.8 1142.9L928.8 1143.0L930.8 1143.1L932.8 1143.2L934.8 1143.3L936.8 1143.4L938.8 1143.5L940.8 1143.5L942.8 1143.6L944.8 1143.7L946.8 1143.7L948.8 1143.8L950.8 1143.9L952.8 1144.0L954.8 1144.0L956.8 1144.1L958.8 1144.1L960.8 1144.2L962.8 1144.3L964.8 1144.3L966.8 1144.4L968.8 1144.4L970.8 1144.5L972.8 1144.6L974.8 1144.6L976.8 1144.7L978.8 1144.7L980.8 1144.8L982.8 1144.8L984.8 1144.9L986.8 1144.9L988.8 1145.0L990.8 1145.1L992.8 1145.1L994.8 1145.2L996.8 1145.2L998.8 1145.3L1000.8 1145.3L1002.8 1145.4L1004.8 1145.4L1006.8 1145.5L1008.8 1145.5L1010.8 1145.6L1012.8 1145.6L1014.9 1145.7L1016.9 1145.7L1018.9 1145.8L1020.9 1145.8L1022.9 1145.9L1024.9 1145.9L1026.9 1146.0L1028.9 1146.0L1030.9 1146.0L1032.9 1146.1L1034.9 1146.1L1036.9 1146.2L1038.9 1146.2L1040.9 1146.3L1042.9 1146.3L1044.9 1146.4L1046.9 1146.4L1048.9 1146.5L1050.9 1146.5L1052.9 1146.6L1054.9 1146.7L1056.9 1146.7L1058.9 1146.8L1060.9 1146.8L1062.9 1146.9L1064.9 1147.0L1066.9 1147.1L1068.9 1147.2L1070.9 1147.2L1072.9 1147.3L1074.9 1147.4L1076.9 1147.4L1078.9 1147.5L1080.9 1147.5L1082.9 1147.5L1084.9 1147.6L1086.9 1147.6L1088.9 1147.6L1090.9 1147.6L1092.9 1147.6L1094.9 1147.6L1096.9 1147.7L1098.9 1147.7L1100.9 1147.7L1102.9 1147.7L1104.9 1147.7L1106.9 1147.7L1108.9 1147.8L1110.9 1147.8L1112.9 1147.8L1114.9 1147.8L1116.9 1147.8L1118.9 1147.8L1120.9 1147.8L1123.0 1147.9L1125.0 1147.9L1127.0 1147.9L1129.0 1147.9L1131.0 1147.9L1133.0 1147.9L1135.0 1147.9L1137.0 1147.9L1139.0 1147.9L1141.0 1147.9L1143.0 1147.9L1145.0 1148.0L1147.0 1148.0L1149.0 1148.0L1151.0 1148.0L1153.0 1148.0L1155.0 1148.0L1157.0 1148.0L1159.0 1148.0L1161.0 1148.0L1163.0 1148.0L1165.0 1148.0L1167.0 1148.0L1169.0 1148.0L1171.0 1148.0L1173.0 1148.0L1175.0 1148.0" fill="none" stroke="#EDB120" stroke-width="5.2" stroke-linejoin="round" stroke-linecap="butt"/>
<path d="M100.0 1120.5L102.0 1120.2L104.0 1119.8L106.0 1119.5L108.0 1119.1L110.0 1118.8L112.0 1118.4L114.0 1117.9L116.0 1117.5L118.0 1117.1L120.0 1116.7L122.0 1116.3L124.0 1115.9L126.0 1115.6L128.0 1115.3L130.0 1115.0L132.0 1114.7L134.0 1114.5L136.0 1114.2L138.0 1114.0L140.0 1113.7L142.0 1113.5L144.0 1113.3L146.0 1113.1L148.0 1112.9L150.0 1112.7L152.0 1112.5L154.1 1112.4L156.1 1112.2L158.1 1112.1L160.1 1112.0L162.1 1111.9L164.1 1111.8L166.1 1111.7L168.1 1111.6L170.1 1111.5L172.1 1111.4L174.1 1111.3L176.1 1111.3L178.1 1111.2L180.1 1111.1L182.1 1111.1L184.1 1111.1L186.1 1111.0L188.1 1111.0L190.1 1111.0L192.1 1111.0L194.1 1111.1L196.1 1111.1L198.1 1111.2L200.1 1111.3L202.1 1111.5L204.1 1111.6L206.1 1111.8L208.1 1111.9L210.1 1112.1L212.1 1112.3L214.1 1112.4L216.1 1112.6L218.1 1112.8L220.1 1112.9L222.1 1113.1L224.1 1113.4L226.1 1113.6L228.1 1113.8L230.1 1114.0L232.1 1114.2L234.1 1114.5L236.1 1114.7L238.1 1115.0L240.1 1115.3L242.1 1115.5L244.1 1115.8L246.1 1116.0L248.1 1116.3L250.1 1116.5L252.1 1116.7L254.1 1117.0L256.1 1117.2L258.1 1117.4L260.1 1117.6L262.2 1117.8L264.2 1118.0L266.2 1118.2L268.2 1118.4L270.2 1118.6L272.2 1118.8L274.2 1119.0L276.2 1119.2L278.2 1119.4L280.2 1119.5L282.2 1119.7L284.2 1119.8L286.2 1120.0L288.2 1120.1L290.2 1120.3L292.2 1120.4L294.2 1120.5L296.2 1120.7L298.2 1120.8L300.2 1120.9L302.2 1121.0L304.2 1121.2L306.2 1121.3L308.2 1121.4L310.2 1121.5L312.2 1121.6L314.2 1121.7L316.2 1121.9L318.2 1122.0L320.2 1122.1L322.2 1122.2L324.2 1122.3L326.2 1122.4L328.2 1122.5L330.2 1122.6L332.2 1122.7L334.2 1122.8L336.2 1122.9L338.2 1123.0L340.2 1123.1L342.2 1123.2L344.2 1123.3L346.2 1123.4L348.2 1123.4L350.2 1123.5L352.2 1123.6L354.2 1123.7L356.2 1123.7L358.2 1123.8L360.2 1123.9L362.2 1123.9L364.2 1124.0L366.2 1124.1L368.2 1124.1L370.3 1124.2L372.3 1124.3L374.3 1124.3L376.3 1124.4L378.3 1124.5L380.3 1124.5L382.3 1124.6L384.3 1124.6L386.3 1124.7L388.3 1124.7L390.3 1124.8L392.3 1124.8L394.3 1124.9L396.3 1124.9L398.3 1125.0L400.3 1125.0L402.3 1125.0L404.3 1125.1L406.3 1125.1L408.3 1125.2L410.3 1125.2L412.3 1125.3L414.3 1125.3L416.3 1125.4L418.3 1125.4L420.3 1125.4L422.3 1125.4L424.3 1125.5L426.3 1125.5L428.3 1125.5L430.3 1125.5L432.3 1125.5L434.3 1125.4L436.3 1125.4L438.3 1125.3L440.3 1125.2L442.3 1125.0L444.3 1124.9L446.3 1124.8L448.3 1124.6L450.3 1124.5L452.3 1124.3L454.3 1124.1L456.3 1123.9L458.3 1123.7L460.3 1123.4L462.3 1123.0L464.3 1122.6L466.3 1122.2L468.3 1121.5L470.3 1120.6L472.3 1119.5L474.3 1118.3L476.4 1116.3L478.4 1113.7L480.4 1110.9L482.4 1108.1L484.4 1105.8L486.4 1103.8L488.4 1101.8L490.4 1099.6L492.4 1097.1L494.4 1094.3L496.4 1091.2L498.4 1087.9L500.4 1084.3L502.4 1080.5L504.4 1076.4L506.4 1072.0L508.4 1067.3L510.4 1062.3L512.4 1057.0L514.4 1051.3L516.4 1045.0L518.4 1038.0L520.4 1030.2L522.4 1021.8L524.4 1013.3L526.4 1004.5L528.4 995.4L530.4 986.2L532.4 977.1L534.4 967.6L536.4 956.3L538.4 941.8L540.4 927.1L542.4 913.2L544.4 899.5L546.4 885.6L548.4 871.9L550.4 858.1L552.4 843.1L554.4 825.7L556.4 807.0L558.4 789.8L560.4 773.9L562.4 759.2L564.4 745.5L566.4 731.9L568.4 717.5L570.4 703.0L572.4 689.0L574.4 675.4L576.4 662.1L578.4 649.3L580.4 637.4L582.4 626.0L584.5 615.1L586.5 604.6L588.5 594.7L590.5 585.4L592.5 576.3L594.5 567.4L596.5 559.2L598.5 552.1L600.5 546.3L602.5 541.3L604.5 537.6L606.5 535.5L608.5 534.0L610.5 534.0L612.5 535.4L614.5 537.6L616.5 541.1L618.5 546.0L620.5 551.3L622.5 557.5L624.5 564.7L626.5 572.6L628.5 581.0L630.5 589.7L632.5 599.3L634.5 609.7L636.5 620.7L638.5 631.8L640.5 642.7L642.5 653.6L644.5 664.6L646.5 675.8L648.5 687.2L650.5 698.9L652.5 711.2L654.5 724.0L656.5 736.9L658.5 749.5L660.5 761.7L662.5 773.8L664.5 785.6L666.5 797.3L668.5 808.7L670.5 819.9L672.5 830.9L674.5 841.9L676.5 853.0L678.5 864.2L680.5 875.4L682.5 886.5L684.5 897.5L686.5 908.4L688.5 919.3L690.5 930.0L692.6 940.4L694.6 950.3L696.6 959.7L698.6 969.0L700.6 978.0L702.6 986.6L704.6 994.6L706.6 1002.0L708.6 1008.9L710.6 1015.5L712.6 1021.7L714.6 1027.6L716.6 1033.4L718.6 1039.0L720.6 1044.6L722.6 1050.1L724.6 1055.6L726.6 1060.9L728.6 1066.0L730.6 1070.8L732.6 1075.2L734.6 1079.3L736.6 1083.1L738.6 1086.7L740.6 1090.2L742.6 1093.4L744.6 1096.5L746.6 1099.4L748.6 1102.1L750.6 1104.7L752.6 1107.1L754.6 1109.5L756.6 1111.7L758.6 1113.8L760.6 1115.8L762.6 1117.8L764.6 1119.7L766.6 1121.5L768.6 1123.2L770.6 1124.9L772.6 1126.5L774.6 1128.1L776.6 1129.6L778.6 1131.0L780.6 1132.3L782.6 1133.6L784.6 1134.8L786.6 1136.0L788.6 1137.1L790.6 1138.2L792.6 1139.2L794.6 1140.2L796.6 1141.0L798.6 1141.8L800.7 1142.6L802.7 1143.3L804.7 1144.0L806.7 1144.6L808.7 1145.2L810.7 1145.7L812.7 1146.2L814.7 1146.6L816.7 1147.0L818.7 1147.4L820.7 1147.8L822.7 1148.2L824.7 1148.5L826.7 1148.8L828.7 1149.1L830.7 1149.4L832.7 1149.6L834.7 1149.8L836.7 1149.9L838.7 1150.0L840.7 1150.1L842.7 1150.2L844.7 1150.3L846.7 1150.4L848.7 1150.4L850.7 1150.5L852.7 1150.6L854.7 1150.7L856.7 1150.7L858.7 1150.8L860.7 1150.8L862.7 1150.9L864.7 1150.9L866.7 1151.0L868.7 1151.0L870.7 1151.1L872.7 1151.1L874.7 1151.2L876.7 1151.2L878.7 1151.2L880.7 1151.3L882.7 1151.3L884.7 1151.3L886.7 1151.4L888.7 1151.4L890.7 1151.4L892.7 1151.4L894.7 1151.4L896.7 1151.5L898.7 1151.5L900.7 1151.5L902.7 1151.5L904.7 1151.5L906.8 1151.6L908.8 1151.6L910.8 1151.6L912.8 1151.6L914.8 1151.6L916.8 1151.6L918.8 1151.7L920.8 1151.7L922.8 1151.7L924.8 1151.7L926.8 1151.7L928.8 1151.7L930.8 1151.7L932.8 1151.8L934.8 1151.8L936.8 1151.8L938.8 1151.8L940.8 1151.8L942.8 1151.8L944.8 1151.8L946.8 1151.8L948.8 1151.9L950.8 1151.9L952.8 1151.9L954.8 1151.9L956.8 1151.9L958.8 1151.9L960.8 1151.9L962.8 1151.9L964.8 1151.9L966.8 1151.9L968.8 1151.9L970.8 1151.9L972.8 1152.0L974.8 1152.0L976.8 1152.0L978.8 1152.0L980.8 1152.0L982.8 1152.0L984.8 1152.0L986.8 1152.0L988.8 1152.0L990.8 1152.0L992.8 1152.0L994.8 1152.0L996.8 1152.0L998.8 1152.0L1000.8 1152.0L1002.8 1152.0L1004.8 1152.0L1006.8 1152.0L1008.8 1152.0L1010.8 1152.0L1012.8 1152.0L1014.9 1152.0L1016.9 1152.0L1018.9 1152.0L1020.9 1152.0L1022.9 1152.0L1024.9 1152.0L1026.9 1152.0L1028.9 1152.0L1030.9 1152.0L1032.9 1152.0L1034.9 1152.0L1036.9 1152.0L1038.9 1152.0L1040.9 1152.0L1042.9 1152.0L1044.9 1152.0L1046.9 1152.0L1048.9 1152.0L1050.9 1152.0L1052.9 1152.0L1054.9 1152.0L1056.9 1152.0L1058.9 1152.0L1060.9 1152.0L1062.9 1152.0L1064.9 1152.0L1066.9 1152.0L1068.9 1152.0L1070.9 1152.0L1072.9 1152.0L1074.9 1152.0L1076.9 1152.0L1078.9 1152.0L1080.9 1152.0L1082.9 1152.0L1084.9 1152.0L1086.9 1152.0L1088.9 1152.0L1090.9 1152.0L1092.9 1152.0L1094.9 1152.0L1096.9 1152.0L1098.9 1152.0L1100.9 1152.0L1102.9 1152.0L1104.9 1152.0L1106.9 1152.0L1108.9 1152.0L1110.9 1152.0L1112.9 1152.0L1114.9 1152.0L1116.9 1152.0L1118.9 1152.0L1120.9 1152.0L1123.0 1152.0L1125.0 1152.0L1127.0 1152.0L1129.0 1152.0L1131.0 1152.0L1133.0 1152.0L1135.0 1152.0L1137.0 1152.0L1139.0 1152.0L1141.0 1152.0L1143.0 1152.0L1145.0 1152.0L1147.0 1152.0L1149.0 1152.0L1151.0 1152.0L1153.0 1152.0L1155.0 1152.0L1157.0 1152.0L1159.0 1152.0L1161.0 1152.0L1163.0 1152.0L1165.0 1152.0L1167.0 1152.0L1169.0 1152.0L1171.0 1152.0L1173.0 1152.0L1175.0 1152.0" fill="none" stroke="#A00000" stroke-width="5.2" stroke-linejoin="round" stroke-linecap="butt"/>
</g>
<g fill="#000"><circle cx="106.0" cy="1122.2" r="4.7"/><circle cx="111.3" cy="1119.8" r="4.7"/><circle cx="116.6" cy="1117.2" r="4.7"/><circle cx="122.0" cy="1119.8" r="4.7"/><circle cx="127.3" cy="1117.4" r="4.7"/><circle cx="132.6" cy="1120.8" r="4.7"/><circle cx="137.9" cy="1118.2" r="4.7"/><circle cx="143.2" cy="1113.5" r="4.7"/><circle cx="148.5" cy="1112.0" r="4.7"/><circle cx="153.9" cy="1109.6" r="4.7"/><circle cx="159.2" cy="1114.8" r="4.7"/><circle cx="164.5" cy="1116.9" r="4.7"/><circle cx="169.8" cy="1120.2" r="4.7"/><circle cx="175.1" cy="1117.8" r="4.7"/><circle cx="180.5" cy="1113.0" r="4.7"/><circle cx="185.8" cy="1110.8" r="4.7"/><circle cx="191.1" cy="1110.6" r="4.7"/><circle cx="196.4" cy="1108.5" r="4.7"/><circle cx="201.7" cy="1111.7" r="4.7"/><circle cx="207.0" cy="1119.2" r="4.7"/><circle cx="212.4" cy="1118.3" r="4.7"/><circle cx="217.7" cy="1111.2" r="4.7"/><circle cx="223.0" cy="1111.4" r="4.7"/><circle cx="228.3" cy="1115.2" r="4.7"/><circle cx="233.6" cy="1119.5" r="4.7"/><circle cx="238.9" cy="1121.0" r="4.7"/><circle cx="244.3" cy="1121.0" r="4.7"/><circle cx="249.6" cy="1118.5" r="4.7"/><circle cx="254.9" cy="1113.2" r="4.7"/><circle cx="260.2" cy="1115.2" r="4.7"/><circle cx="265.5" cy="1114.8" r="4.7"/><circle cx="270.9" cy="1115.8" r="4.7"/><circle cx="276.2" cy="1119.2" r="4.7"/><circle cx="281.5" cy="1122.5" r="4.7"/><circle cx="286.8" cy="1121.7" r="4.7"/><circle cx="292.1" cy="1120.8" r="4.7"/><circle cx="297.4" cy="1120.0" r="4.7"/><circle cx="302.8" cy="1119.2" r="4.7"/><circle cx="308.1" cy="1120.0" r="4.7"/><circle cx="313.4" cy="1123.3" r="4.7"/><circle cx="318.7" cy="1124.2" r="4.7"/><circle cx="324.0" cy="1123.3" r="4.7"/><circle cx="329.4" cy="1125.0" r="4.7"/><circle cx="334.7" cy="1122.5" r="4.7"/><circle cx="340.0" cy="1118.0" r="4.7"/><circle cx="345.3" cy="1123.0" r="4.7"/><circle cx="350.6" cy="1124.2" r="4.7"/><circle cx="355.9" cy="1124.7" r="4.7"/><circle cx="361.3" cy="1124.7" r="4.7"/><circle cx="366.6" cy="1121.7" r="4.7"/><circle cx="371.9" cy="1120.5" r="4.7"/><circle cx="377.2" cy="1120.3" r="4.7"/><circle cx="382.5" cy="1119.5" r="4.7"/><circle cx="387.9" cy="1124.2" r="4.7"/><circle cx="393.2" cy="1123.7" r="4.7"/><circle cx="398.5" cy="1119.2" r="4.7"/><circle cx="403.8" cy="1118.7" r="4.7"/><circle cx="409.1" cy="1115.8" r="4.7"/><circle cx="414.4" cy="1118.0" r="4.7"/><circle cx="419.8" cy="1115.8" r="4.7"/><circle cx="425.1" cy="1120.0" r="4.7"/><circle cx="430.4" cy="1120.5" r="4.7"/><circle cx="435.7" cy="1117.5" r="4.7"/><circle cx="441.0" cy="1116.3" r="4.7"/><circle cx="446.4" cy="1118.0" r="4.7"/><circle cx="451.7" cy="1118.3" r="4.7"/><circle cx="457.0" cy="1118.7" r="4.7"/><circle cx="462.3" cy="1119.5" r="4.7"/><circle cx="467.6" cy="1120.3" r="4.7"/><circle cx="472.9" cy="1120.5" r="4.7"/></g>
<path d="M106.0 11.5H1170.0V1152.5H106.0ZM217.0 11.5v11.5M217.0 1152.5v-11.5M376.5 11.5v11.5M376.5 1152.5v-11.5M541.4 11.5v11.5M541.4 1152.5v-11.5M706.3 11.5v11.5M706.3 1152.5v-11.5M855.2 11.5v11.5M855.2 1152.5v-11.5M1020.1 11.5v11.5M1020.1 1152.5v-11.5M106.0 923.7h11.5M1170.0 923.7h-11.5M106.0 695.5h11.5M1170.0 695.5h-11.5M106.0 467.3h11.5M1170.0 467.3h-11.5M106.0 239.1h11.5M1170.0 239.1h-11.5" fill="none" stroke="#666" stroke-width="2" stroke-linecap="butt" stroke-linejoin="miter"/>
<path d="M218.00 1151.7V1111.2M223.27 1151.7V1111.4M228.53 1151.7V1115.2M233.80 1151.7V1119.5M239.06 1151.7V1121.0M244.33 1151.7V1121.0M249.59 1151.7V1118.5M254.86 1151.7V1113.2M260.12 1151.7V1115.2M265.39 1151.7V1114.8M270.66 1151.7V1115.8M275.92 1151.7V1119.2M281.19 1151.7V1122.5M286.45 1151.7V1121.7M291.72 1151.7V1120.8M296.98 1151.7V1120.0M302.25 1151.7V1119.2M307.52 1151.7V1120.0M312.78 1151.7V1123.3M318.05 1151.7V1124.2M323.31 1151.7V1123.3M328.58 1151.7V1125.0M333.84 1151.7V1122.5M339.11 1151.7V1118.0M344.37 1151.7V1123.0M349.64 1151.7V1124.2M354.91 1151.7V1124.7M360.17 1151.7V1124.7M365.44 1151.7V1121.7M370.70 1151.7V1120.5M375.97 1151.7V1120.3M381.23 1151.7V1119.5M386.50 1151.7V1124.2M391.76 1151.7V1123.7M397.03 1151.7V1119.2M402.30 1151.7V1118.7M407.56 1151.7V1115.8M412.83 1151.7V1118.0M418.09 1151.7V1115.8M423.36 1151.7V1120.0M428.62 1151.7V1120.5M433.89 1151.7V1117.5M439.16 1151.7V1116.3M444.42 1151.7V1115.8M449.69 1151.7V1115.8M454.95 1151.7V1117.5M460.22 1151.7V1118.3M465.48 1151.7V1119.2M470.75 1151.7V1110.0M476.01 1151.7V1103.7M481.28 1151.7V1102.5M486.55 1151.7V1095.3M491.81 1151.7V1095.3M497.08 1151.7V1105.8M502.34 1151.7V1093.8M507.61 1151.7V1089.7M512.87 1151.7V1072.5M518.14 1151.7V1057.0M523.40 1151.7V1044.2M528.67 1151.7V1055.3M533.94 1151.7V1070.8M539.20 1151.7V1069.2M544.47 1151.7V1066.3M549.73 1151.7V1050.8M555.00 1151.7V1056.3M560.26 1151.7V1054.5M565.53 1151.7V1059.2M570.80 1151.7V1071.3M576.06 1151.7V1067.2M581.33 1151.7V1062.0M586.59 1151.7V1052.5M591.86 1151.7V1055.0M597.12 1151.7V1063.0M602.39 1151.7V1064.7M607.65 1151.7V1075.0M612.92 1151.7V1078.8M618.19 1151.7V1071.3M623.45 1151.7V1069.7M628.72 1151.7V1070.0M633.98 1151.7V1070.8M639.25 1151.7V1074.7M644.51 1151.7V1086.2M649.78 1151.7V1094.2M655.04 1151.7V1082.5M660.31 1151.7V1079.7M665.58 1151.7V1075.5M670.84 1151.7V1075.3M676.11 1151.7V1083.7M681.37 1151.7V1091.3M686.64 1151.7V1092.0M691.90 1151.7V1093.7M697.17 1151.7V1086.2M702.44 1151.7V1082.2M707.70 1151.7V1086.3M712.97 1151.7V1093.3M718.23 1151.7V1098.3M723.50 1151.7V1103.0M728.76 1151.7V1097.2M734.03 1151.7V1096.2M739.29 1151.7V1094.7M744.56 1151.7V1096.7M749.83 1151.7V1099.2M755.09 1151.7V1107.0M760.36 1151.7V1107.5M765.62 1151.7V1105.3M770.89 1151.7V1100.8M776.15 1151.7V1100.3M781.42 1151.7V1101.3M786.68 1151.7V1108.3M791.95 1151.7V1111.3M797.22 1151.7V1114.5M802.48 1151.7V1108.0M807.75 1151.7V1105.5M813.01 1151.7V1107.8M818.28 1151.7V1107.5M823.54 1151.7V1107.5M828.81 1151.7V1114.2M834.08 1151.7V1112.0M839.34 1151.7V1109.2M844.61 1151.7V1100.0M849.87 1151.7V1101.3M855.14 1151.7V1098.0M860.40 1151.7V1096.3M865.67 1151.7V1104.7M870.93 1151.7V1104.2M876.20 1151.7V1094.7M881.47 1151.7V1093.8M886.73 1151.7V1088.8M892.00 1151.7V1082.8M897.26 1151.7V1087.5M902.53 1151.7V1087.5M907.79 1151.7V1090.0M913.06 1151.7V1079.5M918.32 1151.7V1076.7M923.59 1151.7V1070.3M928.86 1151.7V1069.0M934.12 1151.7V1073.0M939.39 1151.7V1077.8M944.65 1151.7V1069.3M949.92 1151.7V1070.2M955.18 1151.7V1061.7M960.45 1151.7V1056.3M965.72 1151.7V1054.5M970.98 1151.7V1060.5M976.25 1151.7V1064.2M981.51 1151.7V1067.0M986.78 1151.7V1059.3M992.04 1151.7V1048.3M997.31 1151.7V1050.8M1002.57 1151.7V1044.7M1007.84 1151.7V1055.0M1013.11 1151.7V1068.0M1018.37 1151.7V1068.7M1023.64 1151.7V1056.2M1028.90 1151.7V1053.0M1034.17 1151.7V1046.7M1039.43 1151.7V1052.5M1044.70 1151.7V1060.8M1049.96 1151.7V1072.2M1055.23 1151.7V1074.2M1060.50 1151.7V1070.0" stroke="#ff0000" stroke-width="2.70" fill="none"/>
<text x="94.5" y="1163.4" font-size="30.5" fill="#262626" text-anchor="end">0</text>
<text x="94.5" y="935.2" font-size="30.5" fill="#262626" text-anchor="end">5</text>
<text x="94.5" y="707.0" font-size="30.5" fill="#262626" text-anchor="end">10</text>
<text x="94.5" y="478.8" font-size="30.5" fill="#262626" text-anchor="end">15</text>
<text x="94.5" y="250.6" font-size="30.5" fill="#262626" text-anchor="end">20</text>
<text x="94.5" y="22.4" font-size="30.5" fill="#262626" text-anchor="end">25</text>
<text x="217.0" y="1192" font-size="30.5" fill="#262626" text-anchor="middle">Nov</text>
<text x="376.5" y="1192" font-size="30.5" fill="#262626" text-anchor="middle">Dec</text>
<text x="541.4" y="1192" font-size="30.5" fill="#262626" text-anchor="middle">Jan</text>
<text x="706.3" y="1192" font-size="30.5" fill="#262626" text-anchor="middle">Feb</text>
<text x="855.2" y="1192" font-size="30.5" fill="#262626" text-anchor="middle">Mar</text>
<text x="1020.1" y="1192" font-size="30.5" fill="#262626" text-anchor="middle">Apr</text>
<text transform="translate(45.5 582) rotate(-90)" font-size="33.8" fill="#262626" text-anchor="middle">Daily Hospital Admissions (thousands)</text>
<text x="1126" y="269.5" font-size="24.45" font-weight="bold" fill="#000" text-anchor="end">Warwick 30-Dec Projections on Omicron Dynamics in England</text>
<text x="1126" y="300.6" font-size="19.6" fill="#000" text-anchor="end">Hospital Admissions - 50% Severity of Omicron compared to Delta</text>
<text x="1123.6" y="337" font-size="24.45" fill="#000" text-anchor="end">Latest UKHSA England actuals added in <tspan fill="#ff0000" font-weight="bold">red</tspan> by @RP131</text>
<rect x="469.5" y="30" width="680" height="182.5" fill="#fff" stroke="#262626" stroke-width="1.3"/>
<circle cx="517.2" cy="57" r="7" fill="#000"/>
<path d="M479.2 99.6h18.8M518.4 99.6h19.2" stroke="#EDB120" stroke-width="5.5" fill="none"/>
<path d="M479.2 143.7h18.8M518.4 143.7h19.2" stroke="#B000CC" stroke-width="5.5" fill="none"/>
<path d="M479.2 186.8h18.8M518.4 186.8h19.2" stroke="#0072BD" stroke-width="5.5" fill="none"/>
<text x="562.6" y="69.6" font-size="36.0" fill="#000">Data</text>
<text x="562.6" y="113.6" font-size="36.0" fill="#000">Step 1 on 3 Jan, relax from 15 Jan</text>
<text x="562.6" y="156.9" font-size="36.0" fill="#000">Step 1 on 26 Dec, relax from 15 Jan</text>
<text x="562.6" y="200.3" font-size="36.0" fill="#000">Step 1 on 19 Dec, relax from 15 Jan</text>
</svg>
</body></html>
